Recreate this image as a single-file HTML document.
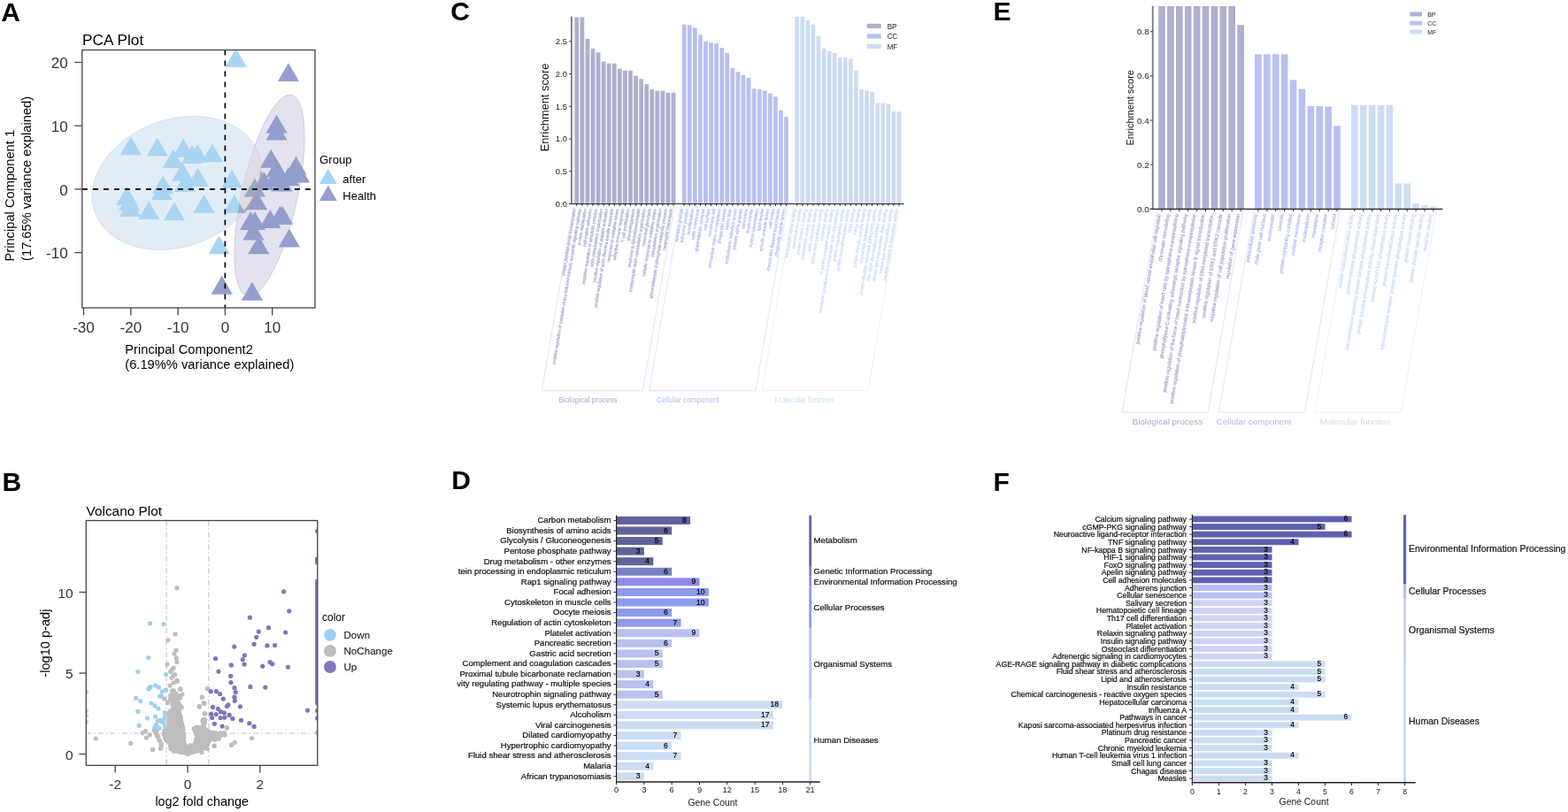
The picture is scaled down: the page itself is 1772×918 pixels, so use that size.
<!DOCTYPE html>
<html><head><meta charset="utf-8"><title>Figure</title>
<style>html,body{margin:0;padding:0;background:#fff;}svg{display:block;}text{font-family:'Liberation Sans', Arial, Helvetica, sans-serif;}</style>
</head><body>
<svg width="1772" height="918" viewBox="0 0 1772 918">
<rect width="1772" height="918" fill="#fff"/>
<text x="1.30" y="23.60" font-size="30" fill="#000" font-weight="bold">A</text>
<text x="2.50" y="554.60" font-size="30" fill="#000" font-weight="bold">B</text>
<text x="509.30" y="23.20" font-size="30" fill="#000" font-weight="bold">C</text>
<text x="510.30" y="552.90" font-size="30" fill="#000" font-weight="bold">D</text>
<text x="1122.50" y="23.30" font-size="30" fill="#000" font-weight="bold">E</text>
<text x="1122.50" y="554.60" font-size="30" fill="#000" font-weight="bold">F</text>
<text transform="translate(93.00 50.80) scale(1.03 1)" font-size="16.8" fill="#000">PCA Plot</text>
<defs><clipPath id="clipA"><rect x="92.8" y="56.5" width="263.2" height="291.5"/></clipPath><clipPath id="clipLightEll"><ellipse cx="199.7" cy="206.9" rx="98.2" ry="71.9" transform="rotate(-19.8 199.7 206.9)"/></clipPath><clipPath id="clipDarkEll"><ellipse cx="304.5" cy="221.1" rx="31.4" ry="116.4" transform="rotate(12.4 304.5 221.1)"/></clipPath></defs>
<g clip-path="url(#clipA)">
<ellipse cx="199.7" cy="206.9" rx="98.2" ry="71.9" transform="rotate(-19.8 199.7 206.9)" fill="#e2ecf5" stroke="#c6def0" stroke-width="0.8"/>
<ellipse cx="304.5" cy="221.1" rx="31.4" ry="116.4" transform="rotate(12.4 304.5 221.1)" fill="#e2e3ee" stroke="#c4c7df" stroke-width="0.8"/>
<g clip-path="url(#clipDarkEll)"><ellipse cx="199.7" cy="206.9" rx="98.2" ry="71.9" transform="rotate(-19.8 199.7 206.9)" fill="#dfdce5" stroke="#d2cede" stroke-width="0.8"/></g>
<polygon points="266.60,54.83 278.70,75.79 254.50,75.79" fill="#a9d4f2"/>
<polygon points="147.90,154.23 160.00,175.19 135.80,175.19" fill="#a9d4f2"/>
<polygon points="177.80,155.43 189.90,176.39 165.70,176.39" fill="#a9d4f2"/>
<polygon points="207.10,156.73 219.20,177.69 195.00,177.69" fill="#a9d4f2"/>
<polygon points="195.70,168.93 207.80,189.89 183.60,189.89" fill="#a9d4f2"/>
<polygon points="217.00,164.03 229.10,184.99 204.90,184.99" fill="#a9d4f2"/>
<polygon points="223.10,162.83 235.20,183.79 211.00,183.79" fill="#a9d4f2"/>
<polygon points="239.90,162.33 252.00,183.29 227.80,183.29" fill="#a9d4f2"/>
<polygon points="206.30,183.73 218.40,204.69 194.20,204.69" fill="#a9d4f2"/>
<polygon points="223.60,189.83 235.70,210.79 211.50,210.79" fill="#a9d4f2"/>
<polygon points="209.10,195.93 221.20,216.89 197.00,216.89" fill="#a9d4f2"/>
<polygon points="184.20,198.13 196.30,219.09 172.10,219.09" fill="#a9d4f2"/>
<polygon points="183.00,205.03 195.10,225.99 170.90,225.99" fill="#a9d4f2"/>
<polygon points="143.50,210.83 155.60,231.79 131.40,231.79" fill="#a9d4f2"/>
<polygon points="146.10,217.23 158.20,238.19 134.00,238.19" fill="#a9d4f2"/>
<polygon points="146.90,224.13 159.00,245.09 134.80,245.09" fill="#a9d4f2"/>
<polygon points="168.20,227.13 180.30,248.09 156.10,248.09" fill="#a9d4f2"/>
<polygon points="196.90,228.33 209.00,249.29 184.80,249.29" fill="#a9d4f2"/>
<polygon points="230.50,219.83 242.60,240.79 218.40,240.79" fill="#a9d4f2"/>
<polygon points="262.10,191.83 274.20,212.79 250.00,212.79" fill="#a9d4f2"/>
<polygon points="264.80,219.73 276.90,240.69 252.70,240.69" fill="#a9d4f2"/>
<polygon points="247.60,266.33 259.70,287.29 235.50,287.29" fill="#a9d4f2"/>
<polygon points="287.90,201.63 300.00,222.59 275.80,222.59" fill="#a9d4f2"/>
<g clip-path="url(#clipDarkEll)">
<polygon points="266.60,54.83 278.70,75.79 254.50,75.79" fill="#97a9c5"/>
<polygon points="147.90,154.23 160.00,175.19 135.80,175.19" fill="#97a9c5"/>
<polygon points="177.80,155.43 189.90,176.39 165.70,176.39" fill="#97a9c5"/>
<polygon points="207.10,156.73 219.20,177.69 195.00,177.69" fill="#97a9c5"/>
<polygon points="195.70,168.93 207.80,189.89 183.60,189.89" fill="#97a9c5"/>
<polygon points="217.00,164.03 229.10,184.99 204.90,184.99" fill="#97a9c5"/>
<polygon points="223.10,162.83 235.20,183.79 211.00,183.79" fill="#97a9c5"/>
<polygon points="239.90,162.33 252.00,183.29 227.80,183.29" fill="#97a9c5"/>
<polygon points="206.30,183.73 218.40,204.69 194.20,204.69" fill="#97a9c5"/>
<polygon points="223.60,189.83 235.70,210.79 211.50,210.79" fill="#97a9c5"/>
<polygon points="209.10,195.93 221.20,216.89 197.00,216.89" fill="#97a9c5"/>
<polygon points="184.20,198.13 196.30,219.09 172.10,219.09" fill="#97a9c5"/>
<polygon points="183.00,205.03 195.10,225.99 170.90,225.99" fill="#97a9c5"/>
<polygon points="143.50,210.83 155.60,231.79 131.40,231.79" fill="#97a9c5"/>
<polygon points="146.10,217.23 158.20,238.19 134.00,238.19" fill="#97a9c5"/>
<polygon points="146.90,224.13 159.00,245.09 134.80,245.09" fill="#97a9c5"/>
<polygon points="168.20,227.13 180.30,248.09 156.10,248.09" fill="#97a9c5"/>
<polygon points="196.90,228.33 209.00,249.29 184.80,249.29" fill="#97a9c5"/>
<polygon points="230.50,219.83 242.60,240.79 218.40,240.79" fill="#97a9c5"/>
<polygon points="262.10,191.83 274.20,212.79 250.00,212.79" fill="#97a9c5"/>
<polygon points="264.80,219.73 276.90,240.69 252.70,240.69" fill="#97a9c5"/>
<polygon points="247.60,266.33 259.70,287.29 235.50,287.29" fill="#97a9c5"/>
<polygon points="287.90,201.63 300.00,222.59 275.80,222.59" fill="#97a9c5"/>
</g>
<polygon points="325.90,71.13 338.00,92.09 313.80,92.09" fill="#929fcc"/>
<polygon points="312.50,179.53 324.60,200.49 300.40,200.49" fill="#929fcc"/>
<polygon points="326.00,189.03 338.10,209.99 313.90,209.99" fill="#929fcc"/>
<polygon points="312.60,129.63 324.70,150.59 300.50,150.59" fill="#929fcc"/>
<polygon points="312.60,137.53 324.70,158.49 300.50,158.49" fill="#929fcc"/>
<polygon points="306.20,168.83 318.30,189.79 294.10,189.79" fill="#929fcc"/>
<polygon points="334.50,176.73 346.60,197.69 322.40,197.69" fill="#929fcc"/>
<polygon points="338.10,185.63 350.20,206.59 326.00,206.59" fill="#929fcc"/>
<polygon points="298.30,194.03 310.40,214.99 286.20,214.99" fill="#929fcc"/>
<polygon points="311.00,190.03 323.10,210.99 298.90,210.99" fill="#929fcc"/>
<polygon points="318.50,195.53 330.60,216.49 306.40,216.49" fill="#929fcc"/>
<polygon points="290.10,216.23 302.20,237.19 278.00,237.19" fill="#929fcc"/>
<polygon points="283.20,238.93 295.30,259.89 271.10,259.89" fill="#929fcc"/>
<polygon points="288.00,239.03 300.10,259.99 275.90,259.99" fill="#929fcc"/>
<polygon points="305.30,237.03 317.40,257.99 293.20,257.99" fill="#929fcc"/>
<polygon points="316.50,232.83 328.60,253.79 304.40,253.79" fill="#929fcc"/>
<polygon points="319.10,232.83 331.20,253.79 307.00,253.79" fill="#929fcc"/>
<polygon points="286.40,250.63 298.50,271.59 274.30,271.59" fill="#929fcc"/>
<polygon points="292.30,266.33 304.40,287.29 280.20,287.29" fill="#929fcc"/>
<polygon points="326.90,258.53 339.00,279.49 314.80,279.49" fill="#929fcc"/>
<polygon points="250.70,311.83 262.80,332.79 238.60,332.79" fill="#929fcc"/>
<polygon points="284.90,318.73 297.00,339.69 272.80,339.69" fill="#929fcc"/>
<defs><clipPath id="clipBand"><rect x="240" y="194" width="80" height="46"/></clipPath></defs>
<g clip-path="url(#clipDarkEll)"><g clip-path="url(#clipBand)"><ellipse cx="199.7" cy="206.9" rx="98.2" ry="71.9" transform="rotate(-19.8 199.7 206.9)" fill="none" stroke="#ad9cb0" stroke-width="2.6" opacity="0.85"/></g></g>
</g>
<line x1="92.90" y1="213.90" x2="356.00" y2="213.90" stroke="#000" stroke-width="1.7" stroke-dasharray="6 6"/>
<line x1="254.40" y1="56.50" x2="254.40" y2="348.00" stroke="#000" stroke-width="1.7" stroke-dasharray="6 6"/>
<rect x="92.8" y="56.5" width="263.2" height="291.5" fill="none" stroke="#444" stroke-width="1.3"/>
<line x1="84.30" y1="70.50" x2="92.80" y2="70.50" stroke="#444" stroke-width="1.3"/>
<text transform="translate(76.80 77.20) scale(1.07 1)" font-size="16" text-anchor="end" fill="#333">20</text>
<line x1="84.30" y1="142.20" x2="92.80" y2="142.20" stroke="#444" stroke-width="1.3"/>
<text transform="translate(76.80 148.90) scale(1.07 1)" font-size="16" text-anchor="end" fill="#333">10</text>
<line x1="84.30" y1="213.90" x2="92.80" y2="213.90" stroke="#444" stroke-width="1.3"/>
<text transform="translate(76.80 220.60) scale(1.07 1)" font-size="16" text-anchor="end" fill="#333">0</text>
<line x1="84.30" y1="285.60" x2="92.80" y2="285.60" stroke="#444" stroke-width="1.3"/>
<text transform="translate(76.80 292.30) scale(1.07 1)" font-size="16" text-anchor="end" fill="#333">-10</text>
<line x1="94.50" y1="348.00" x2="94.50" y2="356.50" stroke="#444" stroke-width="1.3"/>
<text transform="translate(94.50 376.00) scale(1.07 1)" font-size="16" text-anchor="middle" fill="#333">-30</text>
<line x1="147.80" y1="348.00" x2="147.80" y2="356.50" stroke="#444" stroke-width="1.3"/>
<text transform="translate(147.80 376.00) scale(1.07 1)" font-size="16" text-anchor="middle" fill="#333">-20</text>
<line x1="201.10" y1="348.00" x2="201.10" y2="356.50" stroke="#444" stroke-width="1.3"/>
<text transform="translate(201.10 376.00) scale(1.07 1)" font-size="16" text-anchor="middle" fill="#333">-10</text>
<line x1="254.40" y1="348.00" x2="254.40" y2="356.50" stroke="#444" stroke-width="1.3"/>
<text transform="translate(254.40 376.00) scale(1.07 1)" font-size="16" text-anchor="middle" fill="#333">0</text>
<line x1="307.70" y1="348.00" x2="307.70" y2="356.50" stroke="#444" stroke-width="1.3"/>
<text transform="translate(307.70 376.00) scale(1.07 1)" font-size="16" text-anchor="middle" fill="#333">10</text>
<text x="141.30" y="399.70" font-size="14.7" fill="#000">Principal Component2</text>
<text x="141.30" y="416.90" font-size="14.7" fill="#000">(6.19%% variance explained)</text>
<text x="16.00" y="295.50" font-size="14.7" fill="#000" transform="rotate(-90 16.00 295.50)">Principal Component 1</text>
<text x="35.20" y="295.00" font-size="14.7" fill="#000" transform="rotate(-90 35.20 295.00)">(17.65% variance explained)</text>
<text transform="translate(361.00 185.40) scale(1.08 1)" font-size="12.2" fill="#000">Group</text>
<polygon points="370.90,190.65 380.90,207.97 360.90,207.97" fill="#a9d4f2"/>
<text transform="translate(387.30 207.20) scale(1.07 1)" font-size="12.2" fill="#000">after</text>
<polygon points="370.90,209.65 380.90,226.97 360.90,226.97" fill="#929fcc"/>
<text transform="translate(387.30 226.10) scale(1.07 1)" font-size="12.2" fill="#000">Health</text>
<text x="97.50" y="583.40" font-size="15.4" fill="#000">Volcano Plot</text>
<defs><clipPath id="clipB"><rect x="97.3" y="588.5" width="261.5" height="276.8"/></clipPath></defs>
<g clip-path="url(#clipB)">
<line x1="188.10" y1="588.50" x2="188.10" y2="865.30" stroke="#c4c4c4" stroke-width="1.2" stroke-dasharray="6 3 1.5 3"/>
<line x1="235.90" y1="588.50" x2="235.90" y2="865.30" stroke="#c4c4c4" stroke-width="1.2" stroke-dasharray="6 3 1.5 3"/>
<line x1="97.30" y1="829.00" x2="358.80" y2="829.00" stroke="#c4c4c4" stroke-width="1.2" stroke-dasharray="6 3 1.5 3"/>
<path d="M191.2,785.7 L196.6,779.3 L201.5,783.7 L204.4,788.1 L202.5,792.5 L205.9,799.4 L204.4,803.3 L206.4,811.2 L207.4,817.1 L208.8,822.0 L209.3,828.8 L209.8,836.7 L211.3,842.5 L214.2,840.6 L218.1,840.6 L220.1,832.7 L218.1,822.0 L223.0,820.0 L227.9,821.0 L229.9,813.1 L233.8,814.1 L231.9,819.0 L233.8,823.9 L238.7,825.9 L245.6,826.9 L251.5,828.8 L254.4,830.8 L249.5,833.7 L243.6,837.6 L238.7,838.6 L235.8,844.5 L229.9,848.4 L222.1,851.4 L212.3,854.3 L204.4,852.4 L194.6,850.4 L190.7,846.5 L189.7,840.6 L185.8,837.6 L182.8,828.8 L184.8,824.4 L188.7,822.0 L188.7,813.1 L189.7,803.3 L194.6,799.4 L193.6,795.5 L190.7,789.6 Z" fill="#bdbdbd"/>
<circle cx="192.8" cy="786.8" r="2.6" fill="#bdbdbd"/>
<circle cx="194.9" cy="784.6" r="2.6" fill="#bdbdbd"/>
<circle cx="196.6" cy="782.8" r="2.6" fill="#bdbdbd"/>
<circle cx="194.6" cy="781.0" r="2.6" fill="#bdbdbd"/>
<circle cx="197.0" cy="783.2" r="2.6" fill="#bdbdbd"/>
<circle cx="199.1" cy="784.6" r="2.6" fill="#bdbdbd"/>
<circle cx="201.0" cy="787.5" r="2.6" fill="#bdbdbd"/>
<circle cx="201.9" cy="786.9" r="2.6" fill="#bdbdbd"/>
<circle cx="201.5" cy="789.9" r="2.6" fill="#bdbdbd"/>
<circle cx="200.5" cy="793.5" r="2.6" fill="#bdbdbd"/>
<circle cx="202.0" cy="795.4" r="2.6" fill="#bdbdbd"/>
<circle cx="203.0" cy="797.9" r="2.6" fill="#bdbdbd"/>
<circle cx="203.4" cy="798.2" r="2.6" fill="#bdbdbd"/>
<circle cx="202.0" cy="804.2" r="2.6" fill="#bdbdbd"/>
<circle cx="202.5" cy="806.6" r="2.6" fill="#bdbdbd"/>
<circle cx="203.6" cy="809.0" r="2.6" fill="#bdbdbd"/>
<circle cx="204.2" cy="811.1" r="2.6" fill="#bdbdbd"/>
<circle cx="204.2" cy="814.2" r="2.6" fill="#bdbdbd"/>
<circle cx="205.3" cy="817.6" r="2.6" fill="#bdbdbd"/>
<circle cx="205.7" cy="820.3" r="2.6" fill="#bdbdbd"/>
<circle cx="206.5" cy="821.9" r="2.6" fill="#bdbdbd"/>
<circle cx="207.0" cy="824.6" r="2.6" fill="#bdbdbd"/>
<circle cx="206.6" cy="826.8" r="2.6" fill="#bdbdbd"/>
<circle cx="207.0" cy="829.3" r="2.6" fill="#bdbdbd"/>
<circle cx="207.4" cy="831.4" r="2.6" fill="#bdbdbd"/>
<circle cx="207.8" cy="833.8" r="2.6" fill="#bdbdbd"/>
<circle cx="207.5" cy="837.5" r="2.6" fill="#bdbdbd"/>
<circle cx="208.0" cy="840.2" r="2.6" fill="#bdbdbd"/>
<circle cx="212.1" cy="844.6" r="2.6" fill="#bdbdbd"/>
<circle cx="214.5" cy="843.0" r="2.6" fill="#bdbdbd"/>
<circle cx="220.7" cy="841.0" r="2.6" fill="#bdbdbd"/>
<circle cx="221.2" cy="838.6" r="2.6" fill="#bdbdbd"/>
<circle cx="221.8" cy="835.9" r="2.6" fill="#bdbdbd"/>
<circle cx="222.7" cy="832.8" r="2.6" fill="#bdbdbd"/>
<circle cx="221.8" cy="829.8" r="2.6" fill="#bdbdbd"/>
<circle cx="220.9" cy="827.1" r="2.6" fill="#bdbdbd"/>
<circle cx="221.0" cy="824.7" r="2.6" fill="#bdbdbd"/>
<circle cx="219.3" cy="823.9" r="2.6" fill="#bdbdbd"/>
<circle cx="221.3" cy="823.3" r="2.6" fill="#bdbdbd"/>
<circle cx="222.1" cy="822.2" r="2.6" fill="#bdbdbd"/>
<circle cx="224.7" cy="822.4" r="2.6" fill="#bdbdbd"/>
<circle cx="229.7" cy="821.8" r="2.6" fill="#bdbdbd"/>
<circle cx="230.5" cy="818.7" r="2.6" fill="#bdbdbd"/>
<circle cx="231.4" cy="816.7" r="2.6" fill="#bdbdbd"/>
<circle cx="228.9" cy="815.3" r="2.6" fill="#bdbdbd"/>
<circle cx="231.7" cy="813.6" r="2.6" fill="#bdbdbd"/>
<circle cx="231.0" cy="816.1" r="2.6" fill="#bdbdbd"/>
<circle cx="229.5" cy="819.8" r="2.6" fill="#bdbdbd"/>
<circle cx="230.6" cy="822.7" r="2.6" fill="#bdbdbd"/>
<circle cx="233.4" cy="825.7" r="2.6" fill="#bdbdbd"/>
<circle cx="235.1" cy="826.8" r="2.6" fill="#bdbdbd"/>
<circle cx="238.1" cy="828.1" r="2.6" fill="#bdbdbd"/>
<circle cx="240.8" cy="828.2" r="2.6" fill="#bdbdbd"/>
<circle cx="242.5" cy="828.7" r="2.6" fill="#bdbdbd"/>
<circle cx="244.7" cy="829.1" r="2.6" fill="#bdbdbd"/>
<circle cx="248.3" cy="830.2" r="2.6" fill="#bdbdbd"/>
<circle cx="250.2" cy="830.9" r="2.6" fill="#bdbdbd"/>
<circle cx="253.4" cy="828.4" r="2.6" fill="#bdbdbd"/>
<circle cx="251.2" cy="830.6" r="2.6" fill="#bdbdbd"/>
<circle cx="248.6" cy="832.1" r="2.6" fill="#bdbdbd"/>
<circle cx="246.2" cy="833.0" r="2.6" fill="#bdbdbd"/>
<circle cx="243.9" cy="834.6" r="2.6" fill="#bdbdbd"/>
<circle cx="242.7" cy="835.0" r="2.6" fill="#bdbdbd"/>
<circle cx="240.4" cy="835.5" r="2.6" fill="#bdbdbd"/>
<circle cx="236.5" cy="837.2" r="2.6" fill="#bdbdbd"/>
<circle cx="234.7" cy="840.2" r="2.6" fill="#bdbdbd"/>
<circle cx="234.1" cy="842.5" r="2.6" fill="#bdbdbd"/>
<circle cx="232.1" cy="844.3" r="2.6" fill="#bdbdbd"/>
<circle cx="230.7" cy="844.9" r="2.6" fill="#bdbdbd"/>
<circle cx="228.8" cy="846.1" r="2.6" fill="#bdbdbd"/>
<circle cx="226.3" cy="846.9" r="2.6" fill="#bdbdbd"/>
<circle cx="224.2" cy="848.7" r="2.6" fill="#bdbdbd"/>
<circle cx="221.4" cy="849.2" r="2.6" fill="#bdbdbd"/>
<circle cx="218.5" cy="849.5" r="2.6" fill="#bdbdbd"/>
<circle cx="216.3" cy="850.4" r="2.6" fill="#bdbdbd"/>
<circle cx="214.4" cy="851.0" r="2.6" fill="#bdbdbd"/>
<circle cx="212.3" cy="852.5" r="2.6" fill="#bdbdbd"/>
<circle cx="210.2" cy="851.1" r="2.6" fill="#bdbdbd"/>
<circle cx="207.6" cy="850.3" r="2.6" fill="#bdbdbd"/>
<circle cx="204.9" cy="850.6" r="2.6" fill="#bdbdbd"/>
<circle cx="202.8" cy="849.8" r="2.6" fill="#bdbdbd"/>
<circle cx="199.7" cy="849.0" r="2.6" fill="#bdbdbd"/>
<circle cx="197.2" cy="848.9" r="2.6" fill="#bdbdbd"/>
<circle cx="196.3" cy="849.0" r="2.6" fill="#bdbdbd"/>
<circle cx="194.1" cy="846.5" r="2.6" fill="#bdbdbd"/>
<circle cx="193.3" cy="846.6" r="2.6" fill="#bdbdbd"/>
<circle cx="192.8" cy="843.5" r="2.6" fill="#bdbdbd"/>
<circle cx="191.4" cy="839.0" r="2.6" fill="#bdbdbd"/>
<circle cx="188.9" cy="837.3" r="2.6" fill="#bdbdbd"/>
<circle cx="187.8" cy="836.4" r="2.6" fill="#bdbdbd"/>
<circle cx="186.8" cy="834.5" r="2.6" fill="#bdbdbd"/>
<circle cx="186.3" cy="832.7" r="2.6" fill="#bdbdbd"/>
<circle cx="186.2" cy="830.2" r="2.6" fill="#bdbdbd"/>
<circle cx="185.4" cy="830.2" r="2.6" fill="#bdbdbd"/>
<circle cx="186.4" cy="827.4" r="2.6" fill="#bdbdbd"/>
<circle cx="185.7" cy="826.1" r="2.6" fill="#bdbdbd"/>
<circle cx="187.7" cy="824.8" r="2.6" fill="#bdbdbd"/>
<circle cx="191.1" cy="822.4" r="2.6" fill="#bdbdbd"/>
<circle cx="191.4" cy="819.7" r="2.6" fill="#bdbdbd"/>
<circle cx="191.2" cy="817.8" r="2.6" fill="#bdbdbd"/>
<circle cx="190.6" cy="815.5" r="2.6" fill="#bdbdbd"/>
<circle cx="191.4" cy="813.6" r="2.6" fill="#bdbdbd"/>
<circle cx="191.5" cy="810.9" r="2.6" fill="#bdbdbd"/>
<circle cx="191.2" cy="808.8" r="2.6" fill="#bdbdbd"/>
<circle cx="191.6" cy="806.3" r="2.6" fill="#bdbdbd"/>
<circle cx="191.6" cy="805.0" r="2.6" fill="#bdbdbd"/>
<circle cx="193.5" cy="803.6" r="2.6" fill="#bdbdbd"/>
<circle cx="197.1" cy="798.5" r="2.6" fill="#bdbdbd"/>
<circle cx="195.3" cy="794.1" r="2.6" fill="#bdbdbd"/>
<circle cx="194.6" cy="791.8" r="2.6" fill="#bdbdbd"/>
<circle cx="192.6" cy="790.2" r="2.6" fill="#bdbdbd"/>
<circle cx="189.7" cy="794.0" r="2.6" fill="#bdbdbd"/>
<circle cx="203.9" cy="779.3" r="2.6" fill="#bdbdbd"/>
<circle cx="200.0" cy="770.5" r="2.6" fill="#bdbdbd"/>
<circle cx="228.4" cy="788.1" r="2.6" fill="#bdbdbd"/>
<circle cx="230.9" cy="795.0" r="2.6" fill="#bdbdbd"/>
<circle cx="225.5" cy="798.9" r="2.6" fill="#bdbdbd"/>
<circle cx="231.9" cy="806.8" r="2.6" fill="#bdbdbd"/>
<circle cx="234.8" cy="778.3" r="2.6" fill="#bdbdbd"/>
<circle cx="256.4" cy="822.9" r="2.6" fill="#bdbdbd"/>
<circle cx="261.3" cy="842.5" r="2.6" fill="#bdbdbd"/>
<circle cx="242.2" cy="843.0" r="2.6" fill="#bdbdbd"/>
<circle cx="227.9" cy="850.4" r="2.6" fill="#bdbdbd"/>
<circle cx="233.8" cy="846.5" r="2.6" fill="#bdbdbd"/>
<circle cx="180.9" cy="837.6" r="2.6" fill="#bdbdbd"/>
<circle cx="182.4" cy="842.0" r="2.6" fill="#bdbdbd"/>
<circle cx="181.4" cy="846.0" r="2.6" fill="#bdbdbd"/>
<circle cx="176.0" cy="828.8" r="2.6" fill="#bdbdbd"/>
<circle cx="177.0" cy="825.9" r="2.6" fill="#bdbdbd"/>
<circle cx="178.9" cy="832.7" r="2.6" fill="#bdbdbd"/>
<circle cx="199.9" cy="664.7" r="2.6" fill="#bdbdbd"/>
<circle cx="198.0" cy="716.9" r="2.6" fill="#bdbdbd"/>
<circle cx="190.0" cy="723.7" r="2.6" fill="#bdbdbd"/>
<circle cx="199.3" cy="743.9" r="2.6" fill="#bdbdbd"/>
<circle cx="199.9" cy="748.5" r="2.6" fill="#bdbdbd"/>
<circle cx="189.0" cy="751.0" r="2.6" fill="#bdbdbd"/>
<circle cx="196.1" cy="755.0" r="2.6" fill="#bdbdbd"/>
<circle cx="194.3" cy="757.2" r="2.6" fill="#bdbdbd"/>
<circle cx="192.7" cy="759.4" r="2.6" fill="#bdbdbd"/>
<circle cx="195.8" cy="764.3" r="2.6" fill="#bdbdbd"/>
<circle cx="200.2" cy="769.3" r="2.6" fill="#bdbdbd"/>
<circle cx="203.6" cy="778.9" r="2.6" fill="#bdbdbd"/>
<circle cx="234.6" cy="778.3" r="2.6" fill="#bdbdbd"/>
<circle cx="228.4" cy="788.5" r="2.6" fill="#bdbdbd"/>
<circle cx="230.3" cy="794.7" r="2.6" fill="#bdbdbd"/>
<circle cx="225.3" cy="798.5" r="2.6" fill="#bdbdbd"/>
<circle cx="231.5" cy="806.8" r="2.6" fill="#bdbdbd"/>
<circle cx="229.7" cy="813.4" r="2.6" fill="#bdbdbd"/>
<circle cx="231.3" cy="806.8" r="2.6" fill="#bdbdbd"/>
<circle cx="225.4" cy="798.7" r="2.6" fill="#bdbdbd"/>
<circle cx="230.8" cy="795.4" r="2.6" fill="#bdbdbd"/>
<circle cx="234.6" cy="778.7" r="2.6" fill="#bdbdbd"/>
<circle cx="196.0" cy="780.7" r="2.6" fill="#bdbdbd"/>
<circle cx="192.7" cy="786.1" r="2.6" fill="#bdbdbd"/>
<circle cx="203.6" cy="788.9" r="2.6" fill="#bdbdbd"/>
<circle cx="198.1" cy="792.7" r="2.6" fill="#bdbdbd"/>
<circle cx="194.9" cy="797.0" r="2.6" fill="#bdbdbd"/>
<circle cx="205.2" cy="799.8" r="2.6" fill="#bdbdbd"/>
<circle cx="189.4" cy="794.6" r="2.6" fill="#bdbdbd"/>
<circle cx="203.6" cy="779.4" r="2.6" fill="#bdbdbd"/>
<circle cx="200.1" cy="769.6" r="2.6" fill="#bdbdbd"/>
<circle cx="197.6" cy="762.7" r="2.6" fill="#bdbdbd"/>
<circle cx="194.1" cy="766.3" r="2.6" fill="#bdbdbd"/>
<circle cx="164.4" cy="826.7" r="2.6" fill="#bdbdbd"/>
<circle cx="161.1" cy="828.6" r="2.6" fill="#bdbdbd"/>
<circle cx="165.4" cy="834.1" r="2.6" fill="#bdbdbd"/>
<circle cx="169.3" cy="830.8" r="2.6" fill="#bdbdbd"/>
<circle cx="174.2" cy="825.4" r="2.6" fill="#bdbdbd"/>
<circle cx="176.3" cy="827.5" r="2.6" fill="#bdbdbd"/>
<circle cx="177.4" cy="831.9" r="2.6" fill="#bdbdbd"/>
<circle cx="179.6" cy="836.3" r="2.6" fill="#bdbdbd"/>
<circle cx="182.3" cy="841.2" r="2.6" fill="#bdbdbd"/>
<circle cx="181.8" cy="846.1" r="2.6" fill="#bdbdbd"/>
<circle cx="172.5" cy="847.7" r="2.6" fill="#bdbdbd"/>
<circle cx="242.8" cy="836.3" r="2.6" fill="#bdbdbd"/>
<circle cx="246.1" cy="830.8" r="2.6" fill="#bdbdbd"/>
<circle cx="249.3" cy="828.6" r="2.6" fill="#bdbdbd"/>
<circle cx="254.2" cy="830.8" r="2.6" fill="#bdbdbd"/>
<circle cx="256.4" cy="823.0" r="2.6" fill="#bdbdbd"/>
<circle cx="242.2" cy="843.3" r="2.6" fill="#bdbdbd"/>
<circle cx="247.1" cy="835.2" r="2.6" fill="#bdbdbd"/>
<circle cx="108.3" cy="835.1" r="2.6" fill="#bdbdbd"/>
<circle cx="147.7" cy="840.4" r="2.6" fill="#bdbdbd"/>
<circle cx="172.6" cy="847.5" r="2.6" fill="#bdbdbd"/>
<circle cx="261.9" cy="841.9" r="2.6" fill="#bdbdbd"/>
<circle cx="265.3" cy="839.4" r="2.6" fill="#bdbdbd"/>
<circle cx="284.6" cy="834.5" r="2.6" fill="#bdbdbd"/>
<circle cx="358.6" cy="828.0" r="2.6" fill="#bdbdbd"/>
<circle cx="197.0" cy="739.0" r="2.6" fill="#bdbdbd"/>
<circle cx="199.0" cy="735.0" r="2.6" fill="#bdbdbd"/>
<circle cx="196.0" cy="772.0" r="2.6" fill="#bdbdbd"/>
<circle cx="192.0" cy="775.0" r="2.6" fill="#bdbdbd"/>
<circle cx="206.0" cy="785.0" r="2.6" fill="#bdbdbd"/>
<circle cx="186.0" cy="790.0" r="2.6" fill="#bdbdbd"/>
<circle cx="169.5" cy="704.8" r="2.6" fill="#9fcff2"/>
<circle cx="185.0" cy="705.7" r="2.6" fill="#9fcff2"/>
<circle cx="167.9" cy="743.5" r="2.6" fill="#9fcff2"/>
<circle cx="155.8" cy="759.4" r="2.6" fill="#9fcff2"/>
<circle cx="187.5" cy="762.5" r="2.6" fill="#9fcff2"/>
<circle cx="168.8" cy="777.4" r="2.6" fill="#9fcff2"/>
<circle cx="170.1" cy="776.7" r="2.6" fill="#9fcff2"/>
<circle cx="175.7" cy="774.9" r="2.6" fill="#9fcff2"/>
<circle cx="179.4" cy="777.1" r="2.6" fill="#9fcff2"/>
<circle cx="183.1" cy="782.0" r="2.6" fill="#9fcff2"/>
<circle cx="187.5" cy="780.2" r="2.6" fill="#9fcff2"/>
<circle cx="180.6" cy="787.0" r="2.6" fill="#9fcff2"/>
<circle cx="182.5" cy="787.3" r="2.6" fill="#9fcff2"/>
<circle cx="153.6" cy="789.2" r="2.6" fill="#9fcff2"/>
<circle cx="158.6" cy="792.6" r="2.6" fill="#9fcff2"/>
<circle cx="175.0" cy="797.8" r="2.6" fill="#9fcff2"/>
<circle cx="178.8" cy="801.0" r="2.6" fill="#9fcff2"/>
<circle cx="186.2" cy="805.9" r="2.6" fill="#9fcff2"/>
<circle cx="186.8" cy="807.5" r="2.6" fill="#9fcff2"/>
<circle cx="155.8" cy="804.4" r="2.6" fill="#9fcff2"/>
<circle cx="175.4" cy="810.0" r="2.6" fill="#9fcff2"/>
<circle cx="178.2" cy="814.6" r="2.6" fill="#9fcff2"/>
<circle cx="181.3" cy="814.6" r="2.6" fill="#9fcff2"/>
<circle cx="183.1" cy="816.1" r="2.6" fill="#9fcff2"/>
<circle cx="185.0" cy="817.1" r="2.6" fill="#9fcff2"/>
<circle cx="176.6" cy="819.3" r="2.6" fill="#9fcff2"/>
<circle cx="157.1" cy="820.2" r="2.6" fill="#9fcff2"/>
<circle cx="186.5" cy="821.4" r="2.6" fill="#9fcff2"/>
<circle cx="168.0" cy="779.0" r="2.6" fill="#9fcff2"/>
<circle cx="171.0" cy="795.0" r="2.6" fill="#9fcff2"/>
<circle cx="166.5" cy="812.0" r="2.6" fill="#9fcff2"/>
<circle cx="175.0" cy="822.0" r="2.6" fill="#9fcff2"/>
<circle cx="180.0" cy="823.0" r="2.6" fill="#9fcff2"/>
<circle cx="186.0" cy="812.0" r="2.6" fill="#9fcff2"/>
<circle cx="97.3" cy="782.6" r="2.6" fill="#9fcff2"/>
<circle cx="97.3" cy="803.7" r="2.6" fill="#9fcff2"/>
<circle cx="97.3" cy="809.0" r="2.6" fill="#9fcff2"/>
<circle cx="97.3" cy="815.8" r="2.6" fill="#9fcff2"/>
<circle cx="320.6" cy="668.8" r="2.6" fill="#7d77be"/>
<circle cx="326.8" cy="690.8" r="2.6" fill="#7d77be"/>
<circle cx="282.4" cy="698.2" r="2.6" fill="#7d77be"/>
<circle cx="303.5" cy="709.7" r="2.6" fill="#7d77be"/>
<circle cx="292.3" cy="714.1" r="2.6" fill="#7d77be"/>
<circle cx="289.8" cy="720.3" r="2.6" fill="#7d77be"/>
<circle cx="322.7" cy="715.0" r="2.6" fill="#7d77be"/>
<circle cx="287.1" cy="728.3" r="2.6" fill="#7d77be"/>
<circle cx="302.0" cy="729.9" r="2.6" fill="#7d77be"/>
<circle cx="310.6" cy="729.6" r="2.6" fill="#7d77be"/>
<circle cx="264.7" cy="731.1" r="2.6" fill="#7d77be"/>
<circle cx="276.5" cy="740.8" r="2.6" fill="#7d77be"/>
<circle cx="274.3" cy="745.7" r="2.6" fill="#7d77be"/>
<circle cx="276.2" cy="751.0" r="2.6" fill="#7d77be"/>
<circle cx="243.6" cy="744.5" r="2.6" fill="#7d77be"/>
<circle cx="261.3" cy="751.9" r="2.6" fill="#7d77be"/>
<circle cx="305.1" cy="748.5" r="2.6" fill="#7d77be"/>
<circle cx="307.8" cy="750.7" r="2.6" fill="#7d77be"/>
<circle cx="296.7" cy="753.2" r="2.6" fill="#7d77be"/>
<circle cx="325.5" cy="754.1" r="2.6" fill="#7d77be"/>
<circle cx="247.0" cy="759.1" r="2.6" fill="#7d77be"/>
<circle cx="260.7" cy="764.3" r="2.6" fill="#7d77be"/>
<circle cx="261.0" cy="771.5" r="2.6" fill="#7d77be"/>
<circle cx="283.0" cy="776.4" r="2.6" fill="#7d77be"/>
<circle cx="299.8" cy="777.1" r="2.6" fill="#7d77be"/>
<circle cx="265.0" cy="777.7" r="2.6" fill="#7d77be"/>
<circle cx="238.3" cy="781.7" r="2.6" fill="#7d77be"/>
<circle cx="244.5" cy="781.7" r="2.6" fill="#7d77be"/>
<circle cx="248.6" cy="784.5" r="2.6" fill="#7d77be"/>
<circle cx="266.3" cy="782.6" r="2.6" fill="#7d77be"/>
<circle cx="265.0" cy="788.2" r="2.6" fill="#7d77be"/>
<circle cx="265.3" cy="792.3" r="2.6" fill="#7d77be"/>
<circle cx="252.3" cy="790.1" r="2.6" fill="#7d77be"/>
<circle cx="257.9" cy="796.9" r="2.6" fill="#7d77be"/>
<circle cx="256.3" cy="798.5" r="2.6" fill="#7d77be"/>
<circle cx="271.5" cy="798.8" r="2.6" fill="#7d77be"/>
<circle cx="240.5" cy="799.4" r="2.6" fill="#7d77be"/>
<circle cx="246.4" cy="801.3" r="2.6" fill="#7d77be"/>
<circle cx="249.5" cy="804.7" r="2.6" fill="#7d77be"/>
<circle cx="253.5" cy="805.9" r="2.6" fill="#7d77be"/>
<circle cx="238.7" cy="807.2" r="2.6" fill="#7d77be"/>
<circle cx="244.2" cy="807.5" r="2.6" fill="#7d77be"/>
<circle cx="259.1" cy="808.4" r="2.6" fill="#7d77be"/>
<circle cx="262.9" cy="812.4" r="2.6" fill="#7d77be"/>
<circle cx="239.6" cy="811.5" r="2.6" fill="#7d77be"/>
<circle cx="249.2" cy="811.5" r="2.6" fill="#7d77be"/>
<circle cx="253.9" cy="811.2" r="2.6" fill="#7d77be"/>
<circle cx="272.5" cy="814.3" r="2.6" fill="#7d77be"/>
<circle cx="242.4" cy="818.3" r="2.6" fill="#7d77be"/>
<circle cx="281.8" cy="817.7" r="2.6" fill="#7d77be"/>
<circle cx="287.1" cy="821.4" r="2.6" fill="#7d77be"/>
<circle cx="251.1" cy="821.1" r="2.6" fill="#7d77be"/>
<circle cx="347.6" cy="803.1" r="2.6" fill="#7d77be"/>
<circle cx="358.6" cy="600.6" r="2.6" fill="#7d77be"/>
<circle cx="358.6" cy="631.8" r="2.6" fill="#7d77be"/>
<circle cx="358.6" cy="634.0" r="2.6" fill="#7d77be"/>
<circle cx="358.6" cy="636.0" r="2.6" fill="#7d77be"/>
<circle cx="358.6" cy="657.0" r="2.6" fill="#7d77be"/>
<circle cx="358.6" cy="660.0" r="2.6" fill="#7d77be"/>
<circle cx="358.6" cy="663.0" r="2.6" fill="#7d77be"/>
<circle cx="358.6" cy="666.0" r="2.6" fill="#7d77be"/>
<circle cx="358.6" cy="669.0" r="2.6" fill="#7d77be"/>
<circle cx="358.6" cy="672.0" r="2.6" fill="#7d77be"/>
<circle cx="358.6" cy="675.0" r="2.6" fill="#7d77be"/>
<circle cx="358.6" cy="678.0" r="2.6" fill="#7d77be"/>
<circle cx="358.6" cy="681.0" r="2.6" fill="#7d77be"/>
<circle cx="358.6" cy="684.0" r="2.6" fill="#7d77be"/>
<circle cx="358.6" cy="687.0" r="2.6" fill="#7d77be"/>
<circle cx="358.6" cy="690.0" r="2.6" fill="#7d77be"/>
<circle cx="358.6" cy="693.0" r="2.6" fill="#7d77be"/>
<circle cx="358.6" cy="696.0" r="2.6" fill="#7d77be"/>
<circle cx="358.6" cy="699.0" r="2.6" fill="#7d77be"/>
<circle cx="358.6" cy="702.0" r="2.6" fill="#7d77be"/>
<circle cx="358.6" cy="705.0" r="2.6" fill="#7d77be"/>
<circle cx="358.6" cy="708.0" r="2.6" fill="#7d77be"/>
<circle cx="358.6" cy="711.0" r="2.6" fill="#7d77be"/>
<circle cx="358.6" cy="714.0" r="2.6" fill="#7d77be"/>
<circle cx="358.6" cy="717.0" r="2.6" fill="#7d77be"/>
<circle cx="358.6" cy="720.0" r="2.6" fill="#7d77be"/>
<circle cx="358.6" cy="723.0" r="2.6" fill="#7d77be"/>
<circle cx="358.6" cy="726.0" r="2.6" fill="#7d77be"/>
<circle cx="358.6" cy="729.0" r="2.6" fill="#7d77be"/>
<circle cx="358.6" cy="732.0" r="2.6" fill="#7d77be"/>
<circle cx="358.6" cy="735.0" r="2.6" fill="#7d77be"/>
<circle cx="358.6" cy="738.0" r="2.6" fill="#7d77be"/>
<circle cx="358.6" cy="741.0" r="2.6" fill="#7d77be"/>
<circle cx="358.6" cy="744.0" r="2.6" fill="#7d77be"/>
<circle cx="358.6" cy="747.0" r="2.6" fill="#7d77be"/>
<circle cx="358.6" cy="750.0" r="2.6" fill="#7d77be"/>
<circle cx="358.6" cy="753.0" r="2.6" fill="#7d77be"/>
<circle cx="358.6" cy="756.0" r="2.6" fill="#7d77be"/>
<circle cx="358.6" cy="759.0" r="2.6" fill="#7d77be"/>
<circle cx="358.6" cy="762.0" r="2.6" fill="#7d77be"/>
<circle cx="358.6" cy="765.0" r="2.6" fill="#7d77be"/>
<circle cx="358.6" cy="768.0" r="2.6" fill="#7d77be"/>
<circle cx="358.6" cy="771.0" r="2.6" fill="#7d77be"/>
<circle cx="358.6" cy="774.0" r="2.6" fill="#7d77be"/>
<circle cx="358.6" cy="777.0" r="2.6" fill="#7d77be"/>
<circle cx="358.6" cy="780.0" r="2.6" fill="#7d77be"/>
<circle cx="358.6" cy="783.0" r="2.6" fill="#7d77be"/>
<circle cx="358.6" cy="786.0" r="2.6" fill="#7d77be"/>
<circle cx="358.6" cy="789.0" r="2.6" fill="#7d77be"/>
<circle cx="358.6" cy="792.0" r="2.6" fill="#7d77be"/>
<circle cx="358.6" cy="795.0" r="2.6" fill="#7d77be"/>
<circle cx="358.6" cy="803.4" r="2.6" fill="#7d77be"/>
<circle cx="358.6" cy="812.0" r="2.6" fill="#7d77be"/>
</g>
<rect x="97.3" y="588.5" width="261.5" height="276.8" fill="none" stroke="#444" stroke-width="1.3"/>
<line x1="89.50" y1="852.50" x2="97.30" y2="852.50" stroke="#444" stroke-width="1.3"/>
<text transform="translate(82.60 858.80) scale(1.07 1)" font-size="14.6" text-anchor="end" fill="#333">0</text>
<line x1="89.50" y1="761.00" x2="97.30" y2="761.00" stroke="#444" stroke-width="1.3"/>
<text transform="translate(82.60 767.30) scale(1.07 1)" font-size="14.6" text-anchor="end" fill="#333">5</text>
<line x1="89.50" y1="669.50" x2="97.30" y2="669.50" stroke="#444" stroke-width="1.3"/>
<text transform="translate(82.60 675.80) scale(1.07 1)" font-size="14.6" text-anchor="end" fill="#333">10</text>
<line x1="130.20" y1="865.30" x2="130.20" y2="873.40" stroke="#444" stroke-width="1.3"/>
<text transform="translate(130.20 891.60) scale(1.07 1)" font-size="14.6" text-anchor="middle" fill="#333">-2</text>
<line x1="212.00" y1="865.30" x2="212.00" y2="873.40" stroke="#444" stroke-width="1.3"/>
<text transform="translate(212.00 891.60) scale(1.07 1)" font-size="14.6" text-anchor="middle" fill="#333">0</text>
<line x1="293.80" y1="865.30" x2="293.80" y2="873.40" stroke="#444" stroke-width="1.3"/>
<text transform="translate(293.80 891.60) scale(1.07 1)" font-size="14.6" text-anchor="middle" fill="#333">2</text>
<text x="228.20" y="910.80" font-size="14.4" text-anchor="middle" fill="#000">log2 fold change</text>
<text x="56.30" y="727.10" font-size="14.6" text-anchor="middle" fill="#000" transform="rotate(-90 56.30 727.10)">-log10 p-adj</text>
<text x="364.00" y="701.80" font-size="12.0" fill="#000">color</text>
<circle cx="373.0" cy="717.8" r="6.9" fill="#9fcff2"/>
<text x="388.50" y="721.90" font-size="11.6" fill="#000">Down</text>
<circle cx="373.0" cy="735.9" r="6.9" fill="#bdbdbd"/>
<text x="388.50" y="740.00" font-size="11.6" fill="#000">NoChange</text>
<circle cx="373.0" cy="754.0" r="6.9" fill="#7d77be"/>
<text x="388.50" y="758.10" font-size="11.6" fill="#000">Up</text>
<rect x="649.40" y="19.55" width="4.80" height="210.95" fill="#aeb0cf"/>
<rect x="655.47" y="19.55" width="4.80" height="210.95" fill="#aeb0cf"/>
<rect x="661.54" y="43.81" width="4.80" height="186.69" fill="#aeb0cf"/>
<rect x="667.61" y="54.83" width="4.80" height="175.67" fill="#aeb0cf"/>
<rect x="673.68" y="59.25" width="4.80" height="171.25" fill="#aeb0cf"/>
<rect x="679.75" y="69.53" width="4.80" height="160.97" fill="#aeb0cf"/>
<rect x="685.82" y="71.74" width="4.80" height="158.76" fill="#aeb0cf"/>
<rect x="691.89" y="71.74" width="4.80" height="158.76" fill="#aeb0cf"/>
<rect x="697.96" y="77.62" width="4.80" height="152.88" fill="#aeb0cf"/>
<rect x="704.03" y="79.83" width="4.80" height="150.67" fill="#aeb0cf"/>
<rect x="710.10" y="79.83" width="4.80" height="150.67" fill="#aeb0cf"/>
<rect x="716.17" y="85.71" width="4.80" height="144.79" fill="#aeb0cf"/>
<rect x="722.24" y="89.38" width="4.80" height="141.12" fill="#aeb0cf"/>
<rect x="728.31" y="95.26" width="4.80" height="135.24" fill="#aeb0cf"/>
<rect x="734.38" y="101.14" width="4.80" height="129.36" fill="#aeb0cf"/>
<rect x="740.45" y="102.61" width="4.80" height="127.89" fill="#aeb0cf"/>
<rect x="746.52" y="102.61" width="4.80" height="127.89" fill="#aeb0cf"/>
<rect x="752.59" y="104.81" width="4.80" height="125.69" fill="#aeb0cf"/>
<rect x="758.66" y="104.81" width="4.80" height="125.69" fill="#aeb0cf"/>
<rect x="770.80" y="27.64" width="4.80" height="202.86" fill="#b8c0f0"/>
<rect x="776.87" y="28.38" width="4.80" height="202.12" fill="#b8c0f0"/>
<rect x="782.94" y="31.31" width="4.80" height="199.19" fill="#b8c0f0"/>
<rect x="789.01" y="39.40" width="4.80" height="191.10" fill="#b8c0f0"/>
<rect x="795.08" y="46.75" width="4.80" height="183.75" fill="#b8c0f0"/>
<rect x="801.15" y="48.22" width="4.80" height="182.28" fill="#b8c0f0"/>
<rect x="807.22" y="48.95" width="4.80" height="181.55" fill="#b8c0f0"/>
<rect x="813.29" y="54.10" width="4.80" height="176.40" fill="#b8c0f0"/>
<rect x="819.36" y="59.98" width="4.80" height="170.52" fill="#b8c0f0"/>
<rect x="825.43" y="76.89" width="4.80" height="153.61" fill="#b8c0f0"/>
<rect x="831.50" y="81.30" width="4.80" height="149.20" fill="#b8c0f0"/>
<rect x="837.57" y="84.97" width="4.80" height="145.53" fill="#b8c0f0"/>
<rect x="843.64" y="87.91" width="4.80" height="142.59" fill="#b8c0f0"/>
<rect x="849.71" y="100.41" width="4.80" height="130.09" fill="#b8c0f0"/>
<rect x="855.78" y="101.14" width="4.80" height="129.36" fill="#b8c0f0"/>
<rect x="861.85" y="102.61" width="4.80" height="127.89" fill="#b8c0f0"/>
<rect x="867.92" y="105.55" width="4.80" height="124.95" fill="#b8c0f0"/>
<rect x="873.99" y="109.23" width="4.80" height="121.27" fill="#b8c0f0"/>
<rect x="880.06" y="124.66" width="4.80" height="105.84" fill="#b8c0f0"/>
<rect x="886.13" y="132.01" width="4.80" height="98.49" fill="#b8c0f0"/>
<rect x="898.27" y="18.82" width="4.80" height="211.68" fill="#ccddf3"/>
<rect x="904.34" y="18.82" width="4.80" height="211.68" fill="#ccddf3"/>
<rect x="910.41" y="23.23" width="4.80" height="207.27" fill="#ccddf3"/>
<rect x="916.48" y="27.64" width="4.80" height="202.86" fill="#ccddf3"/>
<rect x="922.55" y="40.87" width="4.80" height="189.63" fill="#ccddf3"/>
<rect x="928.62" y="54.83" width="4.80" height="175.67" fill="#ccddf3"/>
<rect x="934.69" y="57.78" width="4.80" height="172.72" fill="#ccddf3"/>
<rect x="940.76" y="59.98" width="4.80" height="170.52" fill="#ccddf3"/>
<rect x="946.83" y="65.12" width="4.80" height="165.38" fill="#ccddf3"/>
<rect x="952.90" y="65.12" width="4.80" height="165.38" fill="#ccddf3"/>
<rect x="958.97" y="66.59" width="4.80" height="163.91" fill="#ccddf3"/>
<rect x="965.04" y="79.83" width="4.80" height="150.67" fill="#ccddf3"/>
<rect x="971.11" y="101.14" width="4.80" height="129.36" fill="#ccddf3"/>
<rect x="977.18" y="102.61" width="4.80" height="127.89" fill="#ccddf3"/>
<rect x="983.25" y="104.08" width="4.80" height="126.42" fill="#ccddf3"/>
<rect x="989.32" y="116.58" width="4.80" height="113.92" fill="#ccddf3"/>
<rect x="995.39" y="116.58" width="4.80" height="113.92" fill="#ccddf3"/>
<rect x="1001.46" y="117.31" width="4.80" height="113.19" fill="#ccddf3"/>
<rect x="1007.53" y="126.13" width="4.80" height="104.37" fill="#ccddf3"/>
<rect x="1013.60" y="126.13" width="4.80" height="104.37" fill="#ccddf3"/>
<line x1="645.90" y1="18.80" x2="645.90" y2="231.10" stroke="#333" stroke-width="1.2"/>
<line x1="642.90" y1="230.50" x2="1021.50" y2="230.50" stroke="#222" stroke-width="1.2"/>
<line x1="643.10" y1="230.50" x2="645.90" y2="230.50" stroke="#333" stroke-width="1.0"/>
<text x="640.90" y="233.88" font-size="9.4" text-anchor="end" fill="#1a1a1a">0.0</text>
<line x1="643.10" y1="193.75" x2="645.90" y2="193.75" stroke="#333" stroke-width="1.0"/>
<text x="640.90" y="197.13" font-size="9.4" text-anchor="end" fill="#1a1a1a">0.5</text>
<line x1="643.10" y1="157.00" x2="645.90" y2="157.00" stroke="#333" stroke-width="1.0"/>
<text x="640.90" y="160.38" font-size="9.4" text-anchor="end" fill="#1a1a1a">1.0</text>
<line x1="643.10" y1="120.25" x2="645.90" y2="120.25" stroke="#333" stroke-width="1.0"/>
<text x="640.90" y="123.63" font-size="9.4" text-anchor="end" fill="#1a1a1a">1.5</text>
<line x1="643.10" y1="83.50" x2="645.90" y2="83.50" stroke="#333" stroke-width="1.0"/>
<text x="640.90" y="86.88" font-size="9.4" text-anchor="end" fill="#1a1a1a">2.0</text>
<line x1="643.10" y1="46.75" x2="645.90" y2="46.75" stroke="#333" stroke-width="1.0"/>
<text x="640.90" y="50.13" font-size="9.4" text-anchor="end" fill="#1a1a1a">2.5</text>
<text x="620.30" y="121.50" font-size="12.8" text-anchor="middle" fill="#111" transform="rotate(-90 620.30 121.50)">Enrichment score</text>
<line x1="651.80" y1="230.50" x2="651.80" y2="232.90" stroke="#222" stroke-width="1.0"/>
<text x="650.70" y="236.30" font-size="4.9" text-anchor="end" fill="#a3a6cc" transform="rotate(-80.5 650.70 236.30)" stroke="#a3a6cc" stroke-width="0.18">protein peptidyl-prolyl isomerization</text>
<line x1="657.87" y1="230.50" x2="657.87" y2="232.90" stroke="#222" stroke-width="1.0"/>
<text x="656.77" y="236.30" font-size="4.9" text-anchor="end" fill="#a3a6cc" transform="rotate(-80.5 656.77 236.30)" stroke="#a3a6cc" stroke-width="0.18">positive regulation of oxidative stress-induced intrinsic apoptotic signaling pathway</text>
<line x1="663.94" y1="230.50" x2="663.94" y2="232.90" stroke="#222" stroke-width="1.0"/>
<text x="662.84" y="236.30" font-size="4.9" text-anchor="end" fill="#a3a6cc" transform="rotate(-80.5 662.84 236.30)" stroke="#a3a6cc" stroke-width="0.18">protein stabilization</text>
<line x1="670.01" y1="230.50" x2="670.01" y2="232.90" stroke="#222" stroke-width="1.0"/>
<text x="668.91" y="236.30" font-size="4.9" text-anchor="end" fill="#a3a6cc" transform="rotate(-80.5 668.91 236.30)" stroke="#a3a6cc" stroke-width="0.18">cell-matrix adhesion</text>
<line x1="676.08" y1="230.50" x2="676.08" y2="232.90" stroke="#222" stroke-width="1.0"/>
<text x="674.98" y="236.30" font-size="4.9" text-anchor="end" fill="#a3a6cc" transform="rotate(-80.5 674.98 236.30)" stroke="#a3a6cc" stroke-width="0.18">negative regulation of apoptotic process</text>
<line x1="682.15" y1="230.50" x2="682.15" y2="232.90" stroke="#222" stroke-width="1.0"/>
<text x="681.05" y="236.30" font-size="4.9" text-anchor="end" fill="#a3a6cc" transform="rotate(-80.5 681.05 236.30)" stroke="#a3a6cc" stroke-width="0.18">actin cytoskeleton organization</text>
<line x1="688.22" y1="230.50" x2="688.22" y2="232.90" stroke="#222" stroke-width="1.0"/>
<text x="687.12" y="236.30" font-size="4.9" text-anchor="end" fill="#a3a6cc" transform="rotate(-80.5 687.12 236.30)" stroke="#a3a6cc" stroke-width="0.18">positive regulation of platelet activation</text>
<line x1="694.29" y1="230.50" x2="694.29" y2="232.90" stroke="#222" stroke-width="1.0"/>
<text x="693.19" y="236.30" font-size="4.9" text-anchor="end" fill="#a3a6cc" transform="rotate(-80.5 693.19 236.30)" stroke="#a3a6cc" stroke-width="0.18">positive regulation of actin filament bundle assembly</text>
<line x1="700.36" y1="230.50" x2="700.36" y2="232.90" stroke="#222" stroke-width="1.0"/>
<text x="699.26" y="236.30" font-size="4.9" text-anchor="end" fill="#a3a6cc" transform="rotate(-80.5 699.26 236.30)" stroke="#a3a6cc" stroke-width="0.18">response to oxidative stress</text>
<line x1="706.43" y1="230.50" x2="706.43" y2="232.90" stroke="#222" stroke-width="1.0"/>
<text x="705.33" y="236.30" font-size="4.9" text-anchor="end" fill="#a3a6cc" transform="rotate(-80.5 705.33 236.30)" stroke="#a3a6cc" stroke-width="0.18">adaptive immune response</text>
<line x1="712.50" y1="230.50" x2="712.50" y2="232.90" stroke="#222" stroke-width="1.0"/>
<text x="711.40" y="236.30" font-size="4.9" text-anchor="end" fill="#a3a6cc" transform="rotate(-80.5 711.40 236.30)" stroke="#a3a6cc" stroke-width="0.18">T cell proliferation</text>
<line x1="718.57" y1="230.50" x2="718.57" y2="232.90" stroke="#222" stroke-width="1.0"/>
<text x="717.47" y="236.30" font-size="4.9" text-anchor="end" fill="#a3a6cc" transform="rotate(-80.5 717.47 236.30)" stroke="#a3a6cc" stroke-width="0.18">gluconeogenesis</text>
<line x1="724.64" y1="230.50" x2="724.64" y2="232.90" stroke="#222" stroke-width="1.0"/>
<text x="723.54" y="236.30" font-size="4.9" text-anchor="end" fill="#a3a6cc" transform="rotate(-80.5 723.54 236.30)" stroke="#a3a6cc" stroke-width="0.18">response to lipopolysaccharide</text>
<line x1="730.71" y1="230.50" x2="730.71" y2="232.90" stroke="#222" stroke-width="1.0"/>
<text x="729.61" y="236.30" font-size="4.9" text-anchor="end" fill="#a3a6cc" transform="rotate(-80.5 729.61 236.30)" stroke="#a3a6cc" stroke-width="0.18">postsynaptic actin cytoskeleton organization</text>
<line x1="736.78" y1="230.50" x2="736.78" y2="232.90" stroke="#222" stroke-width="1.0"/>
<text x="735.68" y="236.30" font-size="4.9" text-anchor="end" fill="#a3a6cc" transform="rotate(-80.5 735.68 236.30)" stroke="#a3a6cc" stroke-width="0.18">canonical glycolysis</text>
<line x1="742.85" y1="230.50" x2="742.85" y2="232.90" stroke="#222" stroke-width="1.0"/>
<text x="741.75" y="236.30" font-size="4.9" text-anchor="end" fill="#a3a6cc" transform="rotate(-80.5 741.75 236.30)" stroke="#a3a6cc" stroke-width="0.18">cellular response to oxidative stress</text>
<line x1="748.92" y1="230.50" x2="748.92" y2="232.90" stroke="#222" stroke-width="1.0"/>
<text x="747.82" y="236.30" font-size="4.9" text-anchor="end" fill="#a3a6cc" transform="rotate(-80.5 747.82 236.30)" stroke="#a3a6cc" stroke-width="0.18">cytoskeleton organization</text>
<line x1="754.99" y1="230.50" x2="754.99" y2="232.90" stroke="#222" stroke-width="1.0"/>
<text x="753.89" y="236.30" font-size="4.9" text-anchor="end" fill="#a3a6cc" transform="rotate(-80.5 753.89 236.30)" stroke="#a3a6cc" stroke-width="0.18">glyceraldehyde-3-phosphate metabolic process</text>
<line x1="761.06" y1="230.50" x2="761.06" y2="232.90" stroke="#222" stroke-width="1.0"/>
<text x="759.96" y="236.30" font-size="4.9" text-anchor="end" fill="#a3a6cc" transform="rotate(-80.5 759.96 236.30)" stroke="#a3a6cc" stroke-width="0.18">neutrophil chemotaxis</text>
<line x1="773.20" y1="230.50" x2="773.20" y2="232.90" stroke="#222" stroke-width="1.0"/>
<text x="772.10" y="236.30" font-size="4.9" text-anchor="end" fill="#aeb7ef" transform="rotate(-80.5 772.10 236.30)" stroke="#aeb7ef" stroke-width="0.18">secretory granule</text>
<line x1="779.27" y1="230.50" x2="779.27" y2="232.90" stroke="#222" stroke-width="1.0"/>
<text x="778.17" y="236.30" font-size="4.9" text-anchor="end" fill="#aeb7ef" transform="rotate(-80.5 778.17 236.30)" stroke="#aeb7ef" stroke-width="0.18">adherens junction</text>
<line x1="785.34" y1="230.50" x2="785.34" y2="232.90" stroke="#222" stroke-width="1.0"/>
<text x="784.24" y="236.30" font-size="4.9" text-anchor="end" fill="#aeb7ef" transform="rotate(-80.5 784.24 236.30)" stroke="#aeb7ef" stroke-width="0.18">lamellipodium</text>
<line x1="791.41" y1="230.50" x2="791.41" y2="232.90" stroke="#222" stroke-width="1.0"/>
<text x="790.31" y="236.30" font-size="4.9" text-anchor="end" fill="#aeb7ef" transform="rotate(-80.5 790.31 236.30)" stroke="#aeb7ef" stroke-width="0.18">ruffle membrane</text>
<line x1="797.48" y1="230.50" x2="797.48" y2="232.90" stroke="#222" stroke-width="1.0"/>
<text x="796.38" y="236.30" font-size="4.9" text-anchor="end" fill="#aeb7ef" transform="rotate(-80.5 796.38 236.30)" stroke="#aeb7ef" stroke-width="0.18">glutamatergic synapse</text>
<line x1="803.55" y1="230.50" x2="803.55" y2="232.90" stroke="#222" stroke-width="1.0"/>
<text x="802.45" y="236.30" font-size="4.9" text-anchor="end" fill="#aeb7ef" transform="rotate(-80.5 802.45 236.30)" stroke="#aeb7ef" stroke-width="0.18">cell surface</text>
<line x1="809.62" y1="230.50" x2="809.62" y2="232.90" stroke="#222" stroke-width="1.0"/>
<text x="808.52" y="236.30" font-size="4.9" text-anchor="end" fill="#aeb7ef" transform="rotate(-80.5 808.52 236.30)" stroke="#aeb7ef" stroke-width="0.18">membrane raft</text>
<line x1="815.69" y1="230.50" x2="815.69" y2="232.90" stroke="#222" stroke-width="1.0"/>
<text x="814.59" y="236.30" font-size="4.9" text-anchor="end" fill="#aeb7ef" transform="rotate(-80.5 814.59 236.30)" stroke="#aeb7ef" stroke-width="0.18">perinuclear region of cytoplasm</text>
<line x1="821.76" y1="230.50" x2="821.76" y2="232.90" stroke="#222" stroke-width="1.0"/>
<text x="820.66" y="236.30" font-size="4.9" text-anchor="end" fill="#aeb7ef" transform="rotate(-80.5 820.66 236.30)" stroke="#aeb7ef" stroke-width="0.18">phagocytic vesicle</text>
<line x1="827.83" y1="230.50" x2="827.83" y2="232.90" stroke="#222" stroke-width="1.0"/>
<text x="826.73" y="236.30" font-size="4.9" text-anchor="end" fill="#aeb7ef" transform="rotate(-80.5 826.73 236.30)" stroke="#aeb7ef" stroke-width="0.18">stress fiber</text>
<line x1="833.90" y1="230.50" x2="833.90" y2="232.90" stroke="#222" stroke-width="1.0"/>
<text x="832.80" y="236.30" font-size="4.9" text-anchor="end" fill="#aeb7ef" transform="rotate(-80.5 832.80 236.30)" stroke="#aeb7ef" stroke-width="0.18">endoplasmic reticulum lumen</text>
<line x1="839.97" y1="230.50" x2="839.97" y2="232.90" stroke="#222" stroke-width="1.0"/>
<text x="838.87" y="236.30" font-size="4.9" text-anchor="end" fill="#aeb7ef" transform="rotate(-80.5 838.87 236.30)" stroke="#aeb7ef" stroke-width="0.18">platelet alpha granule</text>
<line x1="846.04" y1="230.50" x2="846.04" y2="232.90" stroke="#222" stroke-width="1.0"/>
<text x="844.94" y="236.30" font-size="4.9" text-anchor="end" fill="#aeb7ef" transform="rotate(-80.5 844.94 236.30)" stroke="#aeb7ef" stroke-width="0.18">sarcomere</text>
<line x1="852.11" y1="230.50" x2="852.11" y2="232.90" stroke="#222" stroke-width="1.0"/>
<text x="851.01" y="236.30" font-size="4.9" text-anchor="end" fill="#aeb7ef" transform="rotate(-80.5 851.01 236.30)" stroke="#aeb7ef" stroke-width="0.18">brush border</text>
<line x1="858.18" y1="230.50" x2="858.18" y2="232.90" stroke="#222" stroke-width="1.0"/>
<text x="857.08" y="236.30" font-size="4.9" text-anchor="end" fill="#aeb7ef" transform="rotate(-80.5 857.08 236.30)" stroke="#aeb7ef" stroke-width="0.18">cortical cytoskeleton</text>
<line x1="864.25" y1="230.50" x2="864.25" y2="232.90" stroke="#222" stroke-width="1.0"/>
<text x="863.15" y="236.30" font-size="4.9" text-anchor="end" fill="#aeb7ef" transform="rotate(-80.5 863.15 236.30)" stroke="#aeb7ef" stroke-width="0.18">lipid droplet</text>
<line x1="870.32" y1="230.50" x2="870.32" y2="232.90" stroke="#222" stroke-width="1.0"/>
<text x="869.22" y="236.30" font-size="4.9" text-anchor="end" fill="#aeb7ef" transform="rotate(-80.5 869.22 236.30)" stroke="#aeb7ef" stroke-width="0.18">specific granule lumen</text>
<line x1="876.39" y1="230.50" x2="876.39" y2="232.90" stroke="#222" stroke-width="1.0"/>
<text x="875.29" y="236.30" font-size="4.9" text-anchor="end" fill="#aeb7ef" transform="rotate(-80.5 875.29 236.30)" stroke="#aeb7ef" stroke-width="0.18">cell cortex</text>
<line x1="882.46" y1="230.50" x2="882.46" y2="232.90" stroke="#222" stroke-width="1.0"/>
<text x="881.36" y="236.30" font-size="4.9" text-anchor="end" fill="#aeb7ef" transform="rotate(-80.5 881.36 236.30)" stroke="#aeb7ef" stroke-width="0.18">muscle thin filament tropomyosin</text>
<line x1="888.53" y1="230.50" x2="888.53" y2="232.90" stroke="#222" stroke-width="1.0"/>
<text x="887.43" y="236.30" font-size="4.9" text-anchor="end" fill="#aeb7ef" transform="rotate(-80.5 887.43 236.30)" stroke="#aeb7ef" stroke-width="0.18">phagocytic vesicle lumen</text>
<line x1="900.67" y1="230.50" x2="900.67" y2="232.90" stroke="#222" stroke-width="1.0"/>
<text x="899.57" y="236.30" font-size="4.9" text-anchor="end" fill="#c6d8f3" transform="rotate(-80.5 899.57 236.30)" stroke="#c6d8f3" stroke-width="0.18">hemoglobin alpha binding</text>
<line x1="906.74" y1="230.50" x2="906.74" y2="232.90" stroke="#222" stroke-width="1.0"/>
<text x="905.64" y="236.30" font-size="4.9" text-anchor="end" fill="#c6d8f3" transform="rotate(-80.5 905.64 236.30)" stroke="#c6d8f3" stroke-width="0.18">peroxiredoxin activity</text>
<line x1="912.81" y1="230.50" x2="912.81" y2="232.90" stroke="#222" stroke-width="1.0"/>
<text x="911.71" y="236.30" font-size="4.9" text-anchor="end" fill="#c6d8f3" transform="rotate(-80.5 911.71 236.30)" stroke="#c6d8f3" stroke-width="0.18">protein kinase C binding</text>
<line x1="918.88" y1="230.50" x2="918.88" y2="232.90" stroke="#222" stroke-width="1.0"/>
<text x="917.78" y="236.30" font-size="4.9" text-anchor="end" fill="#c6d8f3" transform="rotate(-80.5 917.78 236.30)" stroke="#c6d8f3" stroke-width="0.18">cytoskeletal protein binding</text>
<line x1="924.95" y1="230.50" x2="924.95" y2="232.90" stroke="#222" stroke-width="1.0"/>
<text x="923.85" y="236.30" font-size="4.9" text-anchor="end" fill="#c6d8f3" transform="rotate(-80.5 923.85 236.30)" stroke="#c6d8f3" stroke-width="0.18">actin monomer binding</text>
<line x1="931.02" y1="230.50" x2="931.02" y2="232.90" stroke="#222" stroke-width="1.0"/>
<text x="929.92" y="236.30" font-size="4.9" text-anchor="end" fill="#c6d8f3" transform="rotate(-80.5 929.92 236.30)" stroke="#c6d8f3" stroke-width="0.18">serine-type peptidase activity</text>
<line x1="937.09" y1="230.50" x2="937.09" y2="232.90" stroke="#222" stroke-width="1.0"/>
<text x="935.99" y="236.30" font-size="4.9" text-anchor="end" fill="#c6d8f3" transform="rotate(-80.5 935.99 236.30)" stroke="#c6d8f3" stroke-width="0.18">protease binding</text>
<line x1="943.16" y1="230.50" x2="943.16" y2="232.90" stroke="#222" stroke-width="1.0"/>
<text x="942.06" y="236.30" font-size="4.9" text-anchor="end" fill="#c6d8f3" transform="rotate(-80.5 942.06 236.30)" stroke="#c6d8f3" stroke-width="0.18">G protein-coupled receptor binding</text>
<line x1="949.23" y1="230.50" x2="949.23" y2="232.90" stroke="#222" stroke-width="1.0"/>
<text x="948.13" y="236.30" font-size="4.9" text-anchor="end" fill="#c6d8f3" transform="rotate(-80.5 948.13 236.30)" stroke="#c6d8f3" stroke-width="0.18">structural constituent of postsynaptic actin cytoskeleton</text>
<line x1="955.30" y1="230.50" x2="955.30" y2="232.90" stroke="#222" stroke-width="1.0"/>
<text x="954.20" y="236.30" font-size="4.9" text-anchor="end" fill="#c6d8f3" transform="rotate(-80.5 954.20 236.30)" stroke="#c6d8f3" stroke-width="0.18">protein sequestering activity</text>
<line x1="961.37" y1="230.50" x2="961.37" y2="232.90" stroke="#222" stroke-width="1.0"/>
<text x="960.27" y="236.30" font-size="4.9" text-anchor="end" fill="#c6d8f3" transform="rotate(-80.5 960.27 236.30)" stroke="#c6d8f3" stroke-width="0.18">protein homodimerization activity</text>
<line x1="967.44" y1="230.50" x2="967.44" y2="232.90" stroke="#222" stroke-width="1.0"/>
<text x="966.34" y="236.30" font-size="4.9" text-anchor="end" fill="#c6d8f3" transform="rotate(-80.5 966.34 236.30)" stroke="#c6d8f3" stroke-width="0.18">DNA binding</text>
<line x1="973.51" y1="230.50" x2="973.51" y2="232.90" stroke="#222" stroke-width="1.0"/>
<text x="972.41" y="236.30" font-size="4.9" text-anchor="end" fill="#c6d8f3" transform="rotate(-80.5 972.41 236.30)" stroke="#c6d8f3" stroke-width="0.18">heme binding</text>
<line x1="979.58" y1="230.50" x2="979.58" y2="232.90" stroke="#222" stroke-width="1.0"/>
<text x="978.48" y="236.30" font-size="4.9" text-anchor="end" fill="#c6d8f3" transform="rotate(-80.5 978.48 236.30)" stroke="#c6d8f3" stroke-width="0.18">protein domain specific binding</text>
<line x1="985.65" y1="230.50" x2="985.65" y2="232.90" stroke="#222" stroke-width="1.0"/>
<text x="984.55" y="236.30" font-size="4.9" text-anchor="end" fill="#c6d8f3" transform="rotate(-80.5 984.55 236.30)" stroke="#c6d8f3" stroke-width="0.18">cyanamide hydratase activity</text>
<line x1="991.72" y1="230.50" x2="991.72" y2="232.90" stroke="#222" stroke-width="1.0"/>
<text x="990.62" y="236.30" font-size="4.9" text-anchor="end" fill="#c6d8f3" transform="rotate(-80.5 990.62 236.30)" stroke="#c6d8f3" stroke-width="0.18">protein-disulfide reductase (NAD(P)H) activity</text>
<line x1="997.79" y1="230.50" x2="997.79" y2="232.90" stroke="#222" stroke-width="1.0"/>
<text x="996.69" y="236.30" font-size="4.9" text-anchor="end" fill="#c6d8f3" transform="rotate(-80.5 996.69 236.30)" stroke="#c6d8f3" stroke-width="0.18">Rho GDP-dissociation inhibitor activity</text>
<line x1="1003.86" y1="230.50" x2="1003.86" y2="232.90" stroke="#222" stroke-width="1.0"/>
<text x="1002.76" y="236.30" font-size="4.9" text-anchor="end" fill="#c6d8f3" transform="rotate(-80.5 1002.76 236.30)" stroke="#c6d8f3" stroke-width="0.18">dynein light intermediate chain binding</text>
<line x1="1009.93" y1="230.50" x2="1009.93" y2="232.90" stroke="#222" stroke-width="1.0"/>
<text x="1008.83" y="236.30" font-size="4.9" text-anchor="end" fill="#c6d8f3" transform="rotate(-80.5 1008.83 236.30)" stroke="#c6d8f3" stroke-width="0.18">serine-type endopeptidase activity</text>
<line x1="1016.00" y1="230.50" x2="1016.00" y2="232.90" stroke="#222" stroke-width="1.0"/>
<text x="1014.90" y="236.30" font-size="4.9" text-anchor="end" fill="#c6d8f3" transform="rotate(-80.5 1014.90 236.30)" stroke="#c6d8f3" stroke-width="0.18">peptidyl-cysteine S-nitrosylase activity</text>
<path d="M648.16,232.50 L612.40,441.70 L726.40,441.70 L762.16,232.50" fill="none" stroke="#dfe0f0" stroke-width="0.9"/>
<text x="631.40" y="454.60" font-size="8.2" fill="#a6a9cc">Biological process</text>
<path d="M769.36,232.50 L733.60,441.70 L854.00,441.70 L889.76,232.50" fill="none" stroke="#dfe2f8" stroke-width="0.9"/>
<text x="742.00" y="454.60" font-size="8.2" fill="#b0baf0">Cellular component</text>
<path d="M896.96,232.50 L861.20,441.70 L981.00,441.70 L1016.76,232.50" fill="none" stroke="#e7eff9" stroke-width="0.9"/>
<text x="875.60" y="454.60" font-size="8.2" fill="#cbdcf4">Molecular function</text>
<rect x="979.70" y="26.80" width="16.00" height="5.20" fill="#aeb0cf"/>
<text transform="translate(1002.70 32.85) scale(0.87 1)" font-size="9.2" fill="#1a1a1a">BP</text>
<rect x="979.70" y="38.30" width="16.00" height="5.30" fill="#b8c0f0"/>
<text transform="translate(1002.70 44.40) scale(0.87 1)" font-size="9.2" fill="#1a1a1a">CC</text>
<rect x="979.70" y="50.00" width="16.00" height="5.30" fill="#ccddf3"/>
<text transform="translate(1002.70 56.10) scale(0.87 1)" font-size="9.2" fill="#1a1a1a">MF</text>
<rect x="1309.20" y="6.91" width="7.60" height="229.39" fill="#aeb0cf"/>
<rect x="1319.10" y="6.91" width="7.60" height="229.39" fill="#aeb0cf"/>
<rect x="1329.00" y="6.91" width="7.60" height="229.39" fill="#aeb0cf"/>
<rect x="1338.90" y="6.91" width="7.60" height="229.39" fill="#aeb0cf"/>
<rect x="1348.80" y="6.91" width="7.60" height="229.39" fill="#aeb0cf"/>
<rect x="1358.70" y="6.91" width="7.60" height="229.39" fill="#aeb0cf"/>
<rect x="1368.60" y="6.91" width="7.60" height="229.39" fill="#aeb0cf"/>
<rect x="1378.50" y="6.91" width="7.60" height="229.39" fill="#aeb0cf"/>
<rect x="1388.40" y="6.91" width="7.60" height="229.39" fill="#aeb0cf"/>
<rect x="1398.30" y="28.22" width="7.60" height="208.08" fill="#aeb0cf"/>
<rect x="1418.10" y="61.31" width="7.60" height="174.99" fill="#b8c0f0"/>
<rect x="1428.00" y="61.31" width="7.60" height="174.99" fill="#b8c0f0"/>
<rect x="1437.90" y="61.31" width="7.60" height="174.99" fill="#b8c0f0"/>
<rect x="1447.80" y="61.31" width="7.60" height="174.99" fill="#b8c0f0"/>
<rect x="1457.70" y="90.39" width="7.60" height="145.91" fill="#b8c0f0"/>
<rect x="1467.60" y="100.67" width="7.60" height="135.63" fill="#b8c0f0"/>
<rect x="1477.50" y="119.98" width="7.60" height="116.32" fill="#b8c0f0"/>
<rect x="1487.40" y="119.98" width="7.60" height="116.32" fill="#b8c0f0"/>
<rect x="1497.30" y="120.48" width="7.60" height="115.82" fill="#b8c0f0"/>
<rect x="1507.20" y="142.29" width="7.60" height="94.01" fill="#b8c0f0"/>
<rect x="1527.00" y="118.72" width="7.60" height="117.58" fill="#ccddf3"/>
<rect x="1536.90" y="118.72" width="7.60" height="117.58" fill="#ccddf3"/>
<rect x="1546.80" y="118.72" width="7.60" height="117.58" fill="#ccddf3"/>
<rect x="1556.70" y="118.72" width="7.60" height="117.58" fill="#ccddf3"/>
<rect x="1566.60" y="118.72" width="7.60" height="117.58" fill="#ccddf3"/>
<rect x="1576.50" y="207.47" width="7.60" height="28.83" fill="#ccddf3"/>
<rect x="1586.40" y="207.47" width="7.60" height="28.83" fill="#ccddf3"/>
<rect x="1596.30" y="230.03" width="7.60" height="6.27" fill="#ccddf3"/>
<rect x="1606.20" y="232.29" width="7.60" height="4.01" fill="#ccddf3"/>
<rect x="1616.10" y="233.54" width="7.60" height="2.76" fill="#ccddf3"/>
<line x1="1302.70" y1="6.80" x2="1302.70" y2="236.90" stroke="#7a7a7a" stroke-width="1.8"/>
<line x1="1299.60" y1="236.30" x2="1630.20" y2="236.30" stroke="#222" stroke-width="1.2"/>
<line x1="1299.90" y1="236.30" x2="1302.70" y2="236.30" stroke="#333" stroke-width="1.0"/>
<text x="1298.70" y="239.83" font-size="9.8" text-anchor="end" fill="#1a1a1a">0.0</text>
<line x1="1299.90" y1="186.16" x2="1302.70" y2="186.16" stroke="#333" stroke-width="1.0"/>
<text x="1298.70" y="189.69" font-size="9.8" text-anchor="end" fill="#1a1a1a">0.2</text>
<line x1="1299.90" y1="136.02" x2="1302.70" y2="136.02" stroke="#333" stroke-width="1.0"/>
<text x="1298.70" y="139.55" font-size="9.8" text-anchor="end" fill="#1a1a1a">0.4</text>
<line x1="1299.90" y1="85.88" x2="1302.70" y2="85.88" stroke="#333" stroke-width="1.0"/>
<text x="1298.70" y="89.41" font-size="9.8" text-anchor="end" fill="#1a1a1a">0.6</text>
<line x1="1299.90" y1="35.74" x2="1302.70" y2="35.74" stroke="#333" stroke-width="1.0"/>
<text x="1298.70" y="39.27" font-size="9.8" text-anchor="end" fill="#1a1a1a">0.8</text>
<text x="1281.40" y="121.80" font-size="11.0" text-anchor="middle" fill="#111" transform="rotate(-90 1281.40 121.80)">Enrichment score</text>
<line x1="1313.00" y1="236.30" x2="1313.00" y2="239.10" stroke="#222" stroke-width="1.0"/>
<text x="1311.90" y="242.30" font-size="5.68" text-anchor="end" fill="#a3a6cc" transform="rotate(-80.5 1311.90 242.30)" stroke="#a3a6cc" stroke-width="0.18">positive regulation of blood vessel endothelial cell migration</text>
<line x1="1322.90" y1="236.30" x2="1322.90" y2="239.10" stroke="#222" stroke-width="1.0"/>
<text x="1321.80" y="242.30" font-size="5.68" text-anchor="end" fill="#a3a6cc" transform="rotate(-80.5 1321.80 242.30)" stroke="#a3a6cc" stroke-width="0.18">chromatin remodeling</text>
<line x1="1332.80" y1="236.30" x2="1332.80" y2="239.10" stroke="#222" stroke-width="1.0"/>
<text x="1331.70" y="242.30" font-size="5.68" text-anchor="end" fill="#a3a6cc" transform="rotate(-80.5 1331.70 242.30)" stroke="#a3a6cc" stroke-width="0.18">positive regulation of heart rate by epinephrine-norepinephrine</text>
<line x1="1342.70" y1="236.30" x2="1342.70" y2="239.10" stroke="#222" stroke-width="1.0"/>
<text x="1341.60" y="242.30" font-size="5.68" text-anchor="end" fill="#a3a6cc" transform="rotate(-80.5 1341.60 242.30)" stroke="#a3a6cc" stroke-width="0.18">phospholipase C-activating adrenergic receptor signaling pathway</text>
<line x1="1352.60" y1="236.30" x2="1352.60" y2="239.10" stroke="#222" stroke-width="1.0"/>
<text x="1351.50" y="242.30" font-size="5.68" text-anchor="end" fill="#a3a6cc" transform="rotate(-80.5 1351.50 242.30)" stroke="#a3a6cc" stroke-width="0.18">positive regulation of the force of heart contraction by epinephrine-norepinephrine</text>
<line x1="1362.50" y1="236.30" x2="1362.50" y2="239.10" stroke="#222" stroke-width="1.0"/>
<text x="1361.40" y="242.30" font-size="5.68" text-anchor="end" fill="#a3a6cc" transform="rotate(-80.5 1361.40 242.30)" stroke="#a3a6cc" stroke-width="0.18">positive regulation of phosphatidylinositol 3-kinase/protein kinase B signal transduction</text>
<line x1="1372.40" y1="236.30" x2="1372.40" y2="239.10" stroke="#222" stroke-width="1.0"/>
<text x="1371.30" y="242.30" font-size="5.68" text-anchor="end" fill="#a3a6cc" transform="rotate(-80.5 1371.30 242.30)" stroke="#a3a6cc" stroke-width="0.18">positive regulation of DNA-templated transcription</text>
<line x1="1382.30" y1="236.30" x2="1382.30" y2="239.10" stroke="#222" stroke-width="1.0"/>
<text x="1381.20" y="242.30" font-size="5.68" text-anchor="end" fill="#a3a6cc" transform="rotate(-80.5 1381.20 242.30)" stroke="#a3a6cc" stroke-width="0.18">positive regulation of ERK1 and ERK2 cascade</text>
<line x1="1392.20" y1="236.30" x2="1392.20" y2="239.10" stroke="#222" stroke-width="1.0"/>
<text x="1391.10" y="242.30" font-size="5.68" text-anchor="end" fill="#a3a6cc" transform="rotate(-80.5 1391.10 242.30)" stroke="#a3a6cc" stroke-width="0.18">negative regulation of cell population proliferation</text>
<line x1="1402.10" y1="236.30" x2="1402.10" y2="239.10" stroke="#222" stroke-width="1.0"/>
<text x="1401.00" y="242.30" font-size="5.68" text-anchor="end" fill="#a3a6cc" transform="rotate(-80.5 1401.00 242.30)" stroke="#a3a6cc" stroke-width="0.18">regulation of gene expression</text>
<line x1="1421.90" y1="236.30" x2="1421.90" y2="239.10" stroke="#222" stroke-width="1.0"/>
<text x="1420.80" y="242.30" font-size="5.68" text-anchor="end" fill="#aeb7ef" transform="rotate(-80.5 1420.80 242.30)" stroke="#aeb7ef" stroke-width="0.18">extracellular exosome</text>
<line x1="1431.80" y1="236.30" x2="1431.80" y2="239.10" stroke="#222" stroke-width="1.0"/>
<text x="1430.70" y="242.30" font-size="5.68" text-anchor="end" fill="#aeb7ef" transform="rotate(-80.5 1430.70 242.30)" stroke="#aeb7ef" stroke-width="0.18">male germ cell nucleus</text>
<line x1="1441.70" y1="236.30" x2="1441.70" y2="239.10" stroke="#222" stroke-width="1.0"/>
<text x="1440.60" y="242.30" font-size="5.68" text-anchor="end" fill="#aeb7ef" transform="rotate(-80.5 1440.60 242.30)" stroke="#aeb7ef" stroke-width="0.18">euchromatin</text>
<line x1="1451.60" y1="236.30" x2="1451.60" y2="239.10" stroke="#222" stroke-width="1.0"/>
<text x="1450.50" y="242.30" font-size="5.68" text-anchor="end" fill="#aeb7ef" transform="rotate(-80.5 1450.50 242.30)" stroke="#aeb7ef" stroke-width="0.18">caveola</text>
<line x1="1461.50" y1="236.30" x2="1461.50" y2="239.10" stroke="#222" stroke-width="1.0"/>
<text x="1460.40" y="242.30" font-size="5.68" text-anchor="end" fill="#aeb7ef" transform="rotate(-80.5 1460.40 242.30)" stroke="#aeb7ef" stroke-width="0.18">protein-containing complex</text>
<line x1="1471.40" y1="236.30" x2="1471.40" y2="239.10" stroke="#222" stroke-width="1.0"/>
<text x="1470.30" y="242.30" font-size="5.68" text-anchor="end" fill="#aeb7ef" transform="rotate(-80.5 1470.30 242.30)" stroke="#aeb7ef" stroke-width="0.18">nuclear membrane</text>
<line x1="1481.30" y1="236.30" x2="1481.30" y2="239.10" stroke="#222" stroke-width="1.0"/>
<text x="1480.20" y="242.30" font-size="5.68" text-anchor="end" fill="#aeb7ef" transform="rotate(-80.5 1480.20 242.30)" stroke="#aeb7ef" stroke-width="0.18">nucleoplasm</text>
<line x1="1491.20" y1="236.30" x2="1491.20" y2="239.10" stroke="#222" stroke-width="1.0"/>
<text x="1490.10" y="242.30" font-size="5.68" text-anchor="end" fill="#aeb7ef" transform="rotate(-80.5 1490.10 242.30)" stroke="#aeb7ef" stroke-width="0.18">membrane</text>
<line x1="1501.10" y1="236.30" x2="1501.10" y2="239.10" stroke="#222" stroke-width="1.0"/>
<text x="1500.00" y="242.30" font-size="5.68" text-anchor="end" fill="#aeb7ef" transform="rotate(-80.5 1500.00 242.30)" stroke="#aeb7ef" stroke-width="0.18">receptor complex</text>
<line x1="1511.00" y1="236.30" x2="1511.00" y2="239.10" stroke="#222" stroke-width="1.0"/>
<text x="1509.90" y="242.30" font-size="5.68" text-anchor="end" fill="#aeb7ef" transform="rotate(-80.5 1509.90 242.30)" stroke="#aeb7ef" stroke-width="0.18">cytosol</text>
<line x1="1530.80" y1="236.30" x2="1530.80" y2="239.10" stroke="#222" stroke-width="1.0"/>
<text x="1529.70" y="242.30" font-size="5.68" text-anchor="end" fill="#c6d8f3" transform="rotate(-80.5 1529.70 242.30)" stroke="#c6d8f3" stroke-width="0.18">protein heterodimerization activity</text>
<line x1="1540.70" y1="236.30" x2="1540.70" y2="239.10" stroke="#222" stroke-width="1.0"/>
<text x="1539.60" y="242.30" font-size="5.68" text-anchor="end" fill="#c6d8f3" transform="rotate(-80.5 1539.60 242.30)" stroke="#c6d8f3" stroke-width="0.18">protein tyrosine phosphatase activity</text>
<line x1="1550.60" y1="236.30" x2="1550.60" y2="239.10" stroke="#222" stroke-width="1.0"/>
<text x="1549.50" y="242.30" font-size="5.68" text-anchor="end" fill="#c6d8f3" transform="rotate(-80.5 1549.50 242.30)" stroke="#c6d8f3" stroke-width="0.18">non-membrane spanning protein tyrosine phosphatase activity</text>
<line x1="1560.50" y1="236.30" x2="1560.50" y2="239.10" stroke="#222" stroke-width="1.0"/>
<text x="1559.40" y="242.30" font-size="5.68" text-anchor="end" fill="#c6d8f3" transform="rotate(-80.5 1559.40 242.30)" stroke="#c6d8f3" stroke-width="0.18">protein tyrosine phosphatase activity, metal-dependent</text>
<line x1="1570.40" y1="236.30" x2="1570.40" y2="239.10" stroke="#222" stroke-width="1.0"/>
<text x="1569.30" y="242.30" font-size="5.68" text-anchor="end" fill="#c6d8f3" transform="rotate(-80.5 1569.30 242.30)" stroke="#c6d8f3" stroke-width="0.18">histone H2AXY142 phosphatase activity</text>
<line x1="1580.30" y1="236.30" x2="1580.30" y2="239.10" stroke="#222" stroke-width="1.0"/>
<text x="1579.20" y="242.30" font-size="5.68" text-anchor="end" fill="#c6d8f3" transform="rotate(-80.5 1579.20 242.30)" stroke="#c6d8f3" stroke-width="0.18">protein homodimerization activity</text>
<line x1="1590.20" y1="236.30" x2="1590.20" y2="239.10" stroke="#222" stroke-width="1.0"/>
<text x="1589.10" y="242.30" font-size="5.68" text-anchor="end" fill="#c6d8f3" transform="rotate(-80.5 1589.10 242.30)" stroke="#c6d8f3" stroke-width="0.18">transmembrane receptor protein tyrosine phosphatase activity</text>
<line x1="1600.10" y1="236.30" x2="1600.10" y2="239.10" stroke="#222" stroke-width="1.0"/>
<text x="1599.00" y="242.30" font-size="5.68" text-anchor="end" fill="#c6d8f3" transform="rotate(-80.5 1599.00 242.30)" stroke="#c6d8f3" stroke-width="0.18">protein kinase binding</text>
<line x1="1610.00" y1="236.30" x2="1610.00" y2="239.10" stroke="#222" stroke-width="1.0"/>
<text x="1608.90" y="242.30" font-size="5.68" text-anchor="end" fill="#c6d8f3" transform="rotate(-80.5 1608.90 242.30)" stroke="#c6d8f3" stroke-width="0.18">protein domain specific binding</text>
<line x1="1619.90" y1="236.30" x2="1619.90" y2="239.10" stroke="#222" stroke-width="1.0"/>
<text x="1618.80" y="242.30" font-size="5.68" text-anchor="end" fill="#c6d8f3" transform="rotate(-80.5 1618.80 242.30)" stroke="#c6d8f3" stroke-width="0.18">metal ion binding</text>
<path d="M1307.84,238.50 L1268.10,466.20 L1365.10,466.20 L1404.84,238.50" fill="none" stroke="#dfe0f0" stroke-width="0.9"/>
<text x="1279.60" y="480.00" font-size="9.9" fill="#a6a9cc">Biological process</text>
<path d="M1417.14,238.50 L1377.40,466.20 L1474.50,466.20 L1514.24,238.50" fill="none" stroke="#dfe2f8" stroke-width="0.9"/>
<text x="1374.50" y="480.00" font-size="9.9" fill="#b0baf0">Cellular component</text>
<path d="M1525.74,238.50 L1486.00,466.20 L1583.30,466.20 L1623.04,238.50" fill="none" stroke="#e7eff9" stroke-width="0.9"/>
<text x="1491.60" y="480.00" font-size="9.9" fill="#cbdcf4">Molecular function</text>
<rect x="1593.40" y="13.60" width="13.60" height="4.90" fill="#aeb0cf"/>
<text transform="translate(1613.30 18.90) scale(0.9 1)" font-size="7.6" fill="#1a1a1a">BP</text>
<rect x="1593.40" y="23.70" width="13.60" height="4.90" fill="#b8c0f0"/>
<text transform="translate(1613.30 29.00) scale(0.9 1)" font-size="7.6" fill="#1a1a1a">CC</text>
<rect x="1593.40" y="33.50" width="13.60" height="4.90" fill="#ccddf3"/>
<text transform="translate(1613.30 38.80) scale(0.9 1)" font-size="7.6" fill="#1a1a1a">MF</text>
<defs><clipPath id="clipD"><rect x="517.9" y="0" width="178.70000000000005" height="918"/></clipPath><clipPath id="clipDb"><rect x="516.6" y="0" width="180.0" height="918"/></clipPath></defs>
<g clip-path="url(#clipD)">
<text x="690.60" y="591.21" font-size="9.6" text-anchor="end" fill="#111" stroke="#111" stroke-width="0.22">Carbon metabolism</text>
</g>
<g clip-path="url(#clipD)">
<text x="690.60" y="602.78" font-size="9.6" text-anchor="end" fill="#111" stroke="#111" stroke-width="0.22">Biosynthesis of amino acids</text>
</g>
<g clip-path="url(#clipD)">
<text x="690.60" y="614.36" font-size="9.6" text-anchor="end" fill="#111" stroke="#111" stroke-width="0.22">Glycolysis / Gluconeogenesis</text>
</g>
<g clip-path="url(#clipD)">
<text x="690.60" y="625.94" font-size="9.6" text-anchor="end" fill="#111" stroke="#111" stroke-width="0.22">Pentose phosphate pathway</text>
</g>
<g clip-path="url(#clipD)">
<text x="690.60" y="637.51" font-size="9.6" text-anchor="end" fill="#111" stroke="#111" stroke-width="0.22">Drug metabolism - other enzymes</text>
</g>
<g clip-path="url(#clipD)">
<text x="690.60" y="649.09" font-size="9.6" text-anchor="end" fill="#111" stroke="#111" stroke-width="0.22">Protein processing in endoplasmic reticulum</text>
</g>
<g clip-path="url(#clipD)">
<text x="690.60" y="660.66" font-size="9.6" text-anchor="end" fill="#111" stroke="#111" stroke-width="0.22">Rap1 signaling pathway</text>
</g>
<g clip-path="url(#clipD)">
<text x="690.60" y="672.24" font-size="9.6" text-anchor="end" fill="#111" stroke="#111" stroke-width="0.22">Focal adhesion</text>
</g>
<g clip-path="url(#clipD)">
<text x="690.60" y="683.82" font-size="9.6" text-anchor="end" fill="#111" stroke="#111" stroke-width="0.22">Cytoskeleton in muscle cells</text>
</g>
<g clip-path="url(#clipD)">
<text x="690.60" y="695.39" font-size="9.6" text-anchor="end" fill="#111" stroke="#111" stroke-width="0.22">Oocyte meiosis</text>
</g>
<g clip-path="url(#clipD)">
<text x="690.60" y="706.97" font-size="9.6" text-anchor="end" fill="#111" stroke="#111" stroke-width="0.22">Regulation of actin cytoskeleton</text>
</g>
<g clip-path="url(#clipD)">
<text x="690.60" y="718.54" font-size="9.6" text-anchor="end" fill="#111" stroke="#111" stroke-width="0.22">Platelet activation</text>
</g>
<g clip-path="url(#clipD)">
<text x="690.60" y="730.12" font-size="9.6" text-anchor="end" fill="#111" stroke="#111" stroke-width="0.22">Pancreatic secretion</text>
</g>
<g clip-path="url(#clipD)">
<text x="690.60" y="741.70" font-size="9.6" text-anchor="end" fill="#111" stroke="#111" stroke-width="0.22">Gastric acid secretion</text>
</g>
<g clip-path="url(#clipD)">
<text x="690.60" y="753.27" font-size="9.6" text-anchor="end" fill="#111" stroke="#111" stroke-width="0.22">Complement and coagulation cascades</text>
</g>
<g clip-path="url(#clipD)">
<text x="690.60" y="764.85" font-size="9.6" text-anchor="end" fill="#111" stroke="#111" stroke-width="0.22">Proximal tubule bicarbonate reclamation</text>
</g>
<g clip-path="url(#clipDb)">
<text x="690.60" y="776.42" font-size="9.6" text-anchor="end" fill="#111" stroke="#111" stroke-width="0.22">Longevity regulating pathway - multiple species</text>
</g>
<g clip-path="url(#clipD)">
<text x="690.60" y="788.00" font-size="9.6" text-anchor="end" fill="#111" stroke="#111" stroke-width="0.22">Neurotrophin signaling pathway</text>
</g>
<g clip-path="url(#clipD)">
<text x="690.60" y="799.58" font-size="9.6" text-anchor="end" fill="#111" stroke="#111" stroke-width="0.22">Systemic lupus erythematosus</text>
</g>
<g clip-path="url(#clipD)">
<text x="690.60" y="811.15" font-size="9.6" text-anchor="end" fill="#111" stroke="#111" stroke-width="0.22">Alcoholism</text>
</g>
<g clip-path="url(#clipD)">
<text x="690.60" y="822.73" font-size="9.6" text-anchor="end" fill="#111" stroke="#111" stroke-width="0.22">Viral carcinogenesis</text>
</g>
<g clip-path="url(#clipD)">
<text x="690.60" y="834.30" font-size="9.6" text-anchor="end" fill="#111" stroke="#111" stroke-width="0.22">Dilated cardiomyopathy</text>
</g>
<g clip-path="url(#clipD)">
<text x="690.60" y="845.88" font-size="9.6" text-anchor="end" fill="#111" stroke="#111" stroke-width="0.22">Hypertrophic cardiomyopathy</text>
</g>
<g clip-path="url(#clipD)">
<text x="690.60" y="857.46" font-size="9.6" text-anchor="end" fill="#111" stroke="#111" stroke-width="0.22">Fluid shear stress and atherosclerosis</text>
</g>
<g clip-path="url(#clipD)">
<text x="690.60" y="869.03" font-size="9.6" text-anchor="end" fill="#111" stroke="#111" stroke-width="0.22">Malaria</text>
</g>
<g clip-path="url(#clipD)">
<text x="690.60" y="880.61" font-size="9.6" text-anchor="end" fill="#111" stroke="#111" stroke-width="0.22">African trypanosomiasis</text>
</g>
<rect x="696.60" y="583.90" width="83.44" height="9.00" fill="#5f6399"/>
<line x1="693.30" y1="588.40" x2="696.60" y2="588.40" stroke="#222" stroke-width="0.9"/>
<text transform="translate(775.74 590.96) scale(0.87 1)" font-size="9.9" text-anchor="end" fill="#000" stroke="#000" stroke-width="0.2">8</text>
<rect x="696.60" y="595.48" width="62.58" height="9.00" fill="#5f6399"/>
<line x1="693.30" y1="599.98" x2="696.60" y2="599.98" stroke="#222" stroke-width="0.9"/>
<text transform="translate(754.88 602.54) scale(0.87 1)" font-size="9.9" text-anchor="end" fill="#000" stroke="#000" stroke-width="0.2">6</text>
<rect x="696.60" y="607.05" width="52.15" height="9.00" fill="#5f6399"/>
<line x1="693.30" y1="611.55" x2="696.60" y2="611.55" stroke="#222" stroke-width="0.9"/>
<text transform="translate(744.45 614.12) scale(0.87 1)" font-size="9.9" text-anchor="end" fill="#000" stroke="#000" stroke-width="0.2">5</text>
<rect x="696.60" y="618.63" width="31.29" height="9.00" fill="#5f6399"/>
<line x1="693.30" y1="623.13" x2="696.60" y2="623.13" stroke="#222" stroke-width="0.9"/>
<text transform="translate(723.59 625.69) scale(0.87 1)" font-size="9.9" text-anchor="end" fill="#000" stroke="#000" stroke-width="0.2">3</text>
<rect x="696.60" y="630.20" width="41.72" height="9.00" fill="#5f6399"/>
<line x1="693.30" y1="634.70" x2="696.60" y2="634.70" stroke="#222" stroke-width="0.9"/>
<text transform="translate(734.02 637.27) scale(0.87 1)" font-size="9.9" text-anchor="end" fill="#000" stroke="#000" stroke-width="0.2">4</text>
<rect x="696.60" y="641.78" width="62.58" height="9.00" fill="#7a81c3"/>
<line x1="693.30" y1="646.28" x2="696.60" y2="646.28" stroke="#222" stroke-width="0.9"/>
<text transform="translate(754.88 648.84) scale(0.87 1)" font-size="9.9" text-anchor="end" fill="#000" stroke="#000" stroke-width="0.2">6</text>
<rect x="696.60" y="653.36" width="93.87" height="9.00" fill="#8f89e9"/>
<line x1="693.30" y1="657.86" x2="696.60" y2="657.86" stroke="#222" stroke-width="0.9"/>
<text transform="translate(786.17 660.42) scale(0.87 1)" font-size="9.9" text-anchor="end" fill="#000" stroke="#000" stroke-width="0.2">9</text>
<rect x="696.60" y="664.93" width="104.30" height="9.00" fill="#8e9aeb"/>
<line x1="693.30" y1="669.43" x2="696.60" y2="669.43" stroke="#222" stroke-width="0.9"/>
<text transform="translate(796.60 672.00) scale(0.87 1)" font-size="9.9" text-anchor="end" fill="#000" stroke="#000" stroke-width="0.2">10</text>
<rect x="696.60" y="676.51" width="104.30" height="9.00" fill="#8e9aeb"/>
<line x1="693.30" y1="681.01" x2="696.60" y2="681.01" stroke="#222" stroke-width="0.9"/>
<text transform="translate(796.60 683.57) scale(0.87 1)" font-size="9.9" text-anchor="end" fill="#000" stroke="#000" stroke-width="0.2">10</text>
<rect x="696.60" y="688.08" width="62.58" height="9.00" fill="#8e9aeb"/>
<line x1="693.30" y1="692.58" x2="696.60" y2="692.58" stroke="#222" stroke-width="0.9"/>
<text transform="translate(754.88 695.15) scale(0.87 1)" font-size="9.9" text-anchor="end" fill="#000" stroke="#000" stroke-width="0.2">6</text>
<rect x="696.60" y="699.66" width="73.01" height="9.00" fill="#8e9aeb"/>
<line x1="693.30" y1="704.16" x2="696.60" y2="704.16" stroke="#222" stroke-width="0.9"/>
<text transform="translate(765.31 706.72) scale(0.87 1)" font-size="9.9" text-anchor="end" fill="#000" stroke="#000" stroke-width="0.2">7</text>
<rect x="696.60" y="711.24" width="93.87" height="9.00" fill="#b9c1f1"/>
<line x1="693.30" y1="715.74" x2="696.60" y2="715.74" stroke="#222" stroke-width="0.9"/>
<text transform="translate(786.17 718.30) scale(0.87 1)" font-size="9.9" text-anchor="end" fill="#000" stroke="#000" stroke-width="0.2">9</text>
<rect x="696.60" y="722.81" width="62.58" height="9.00" fill="#b9c1f1"/>
<line x1="693.30" y1="727.31" x2="696.60" y2="727.31" stroke="#222" stroke-width="0.9"/>
<text transform="translate(754.88 729.88) scale(0.87 1)" font-size="9.9" text-anchor="end" fill="#000" stroke="#000" stroke-width="0.2">6</text>
<rect x="696.60" y="734.39" width="52.15" height="9.00" fill="#b9c1f1"/>
<line x1="693.30" y1="738.89" x2="696.60" y2="738.89" stroke="#222" stroke-width="0.9"/>
<text transform="translate(744.45 741.45) scale(0.87 1)" font-size="9.9" text-anchor="end" fill="#000" stroke="#000" stroke-width="0.2">5</text>
<rect x="696.60" y="745.96" width="52.15" height="9.00" fill="#b9c1f1"/>
<line x1="693.30" y1="750.46" x2="696.60" y2="750.46" stroke="#222" stroke-width="0.9"/>
<text transform="translate(744.45 753.03) scale(0.87 1)" font-size="9.9" text-anchor="end" fill="#000" stroke="#000" stroke-width="0.2">5</text>
<rect x="696.60" y="757.54" width="31.29" height="9.00" fill="#b9c1f1"/>
<line x1="693.30" y1="762.04" x2="696.60" y2="762.04" stroke="#222" stroke-width="0.9"/>
<text transform="translate(723.59 764.60) scale(0.87 1)" font-size="9.9" text-anchor="end" fill="#000" stroke="#000" stroke-width="0.2">3</text>
<rect x="696.60" y="769.12" width="41.72" height="9.00" fill="#b9c1f1"/>
<line x1="693.30" y1="773.62" x2="696.60" y2="773.62" stroke="#222" stroke-width="0.9"/>
<text transform="translate(734.02 776.18) scale(0.87 1)" font-size="9.9" text-anchor="end" fill="#000" stroke="#000" stroke-width="0.2">4</text>
<rect x="696.60" y="780.69" width="52.15" height="9.00" fill="#b9c1f1"/>
<line x1="693.30" y1="785.19" x2="696.60" y2="785.19" stroke="#222" stroke-width="0.9"/>
<text transform="translate(744.45 787.76) scale(0.87 1)" font-size="9.9" text-anchor="end" fill="#000" stroke="#000" stroke-width="0.2">5</text>
<rect x="696.60" y="792.27" width="187.74" height="9.00" fill="#cbddf3"/>
<line x1="693.30" y1="796.77" x2="696.60" y2="796.77" stroke="#222" stroke-width="0.9"/>
<text transform="translate(880.04 799.33) scale(0.87 1)" font-size="9.9" text-anchor="end" fill="#000" stroke="#000" stroke-width="0.2">18</text>
<rect x="696.60" y="803.84" width="177.31" height="9.00" fill="#cbddf3"/>
<line x1="693.30" y1="808.34" x2="696.60" y2="808.34" stroke="#222" stroke-width="0.9"/>
<text transform="translate(869.61 810.91) scale(0.87 1)" font-size="9.9" text-anchor="end" fill="#000" stroke="#000" stroke-width="0.2">17</text>
<rect x="696.60" y="815.42" width="177.31" height="9.00" fill="#cbddf3"/>
<line x1="693.30" y1="819.92" x2="696.60" y2="819.92" stroke="#222" stroke-width="0.9"/>
<text transform="translate(869.61 822.48) scale(0.87 1)" font-size="9.9" text-anchor="end" fill="#000" stroke="#000" stroke-width="0.2">17</text>
<rect x="696.60" y="827.00" width="73.01" height="9.00" fill="#cbddf3"/>
<line x1="693.30" y1="831.50" x2="696.60" y2="831.50" stroke="#222" stroke-width="0.9"/>
<text transform="translate(765.31 834.06) scale(0.87 1)" font-size="9.9" text-anchor="end" fill="#000" stroke="#000" stroke-width="0.2">7</text>
<rect x="696.60" y="838.57" width="62.58" height="9.00" fill="#cbddf3"/>
<line x1="693.30" y1="843.07" x2="696.60" y2="843.07" stroke="#222" stroke-width="0.9"/>
<text transform="translate(754.88 845.64) scale(0.87 1)" font-size="9.9" text-anchor="end" fill="#000" stroke="#000" stroke-width="0.2">6</text>
<rect x="696.60" y="850.15" width="73.01" height="9.00" fill="#cbddf3"/>
<line x1="693.30" y1="854.65" x2="696.60" y2="854.65" stroke="#222" stroke-width="0.9"/>
<text transform="translate(765.31 857.21) scale(0.87 1)" font-size="9.9" text-anchor="end" fill="#000" stroke="#000" stroke-width="0.2">7</text>
<rect x="696.60" y="861.72" width="41.72" height="9.00" fill="#cbddf3"/>
<line x1="693.30" y1="866.22" x2="696.60" y2="866.22" stroke="#222" stroke-width="0.9"/>
<text transform="translate(734.02 868.79) scale(0.87 1)" font-size="9.9" text-anchor="end" fill="#000" stroke="#000" stroke-width="0.2">4</text>
<rect x="696.60" y="873.30" width="31.29" height="9.00" fill="#cbddf3"/>
<line x1="693.30" y1="877.80" x2="696.60" y2="877.80" stroke="#222" stroke-width="0.9"/>
<text transform="translate(723.59 880.36) scale(0.87 1)" font-size="9.9" text-anchor="end" fill="#000" stroke="#000" stroke-width="0.2">3</text>
<rect x="914.30" y="582.60" width="2.80" height="57.60" fill="#5f6399"/>
<rect x="914.30" y="640.20" width="2.80" height="11.40" fill="#7a81c3"/>
<rect x="914.30" y="651.60" width="2.80" height="11.60" fill="#8f89e9"/>
<rect x="914.30" y="663.20" width="2.80" height="46.60" fill="#8e9aeb"/>
<rect x="914.30" y="709.80" width="2.80" height="81.00" fill="#b9c1f1"/>
<rect x="914.30" y="790.80" width="2.80" height="92.60" fill="#cbddf3"/>
<text x="919.60" y="614.01" font-size="9.6" fill="#111" stroke="#111" stroke-width="0.2">Metabolism</text>
<text x="919.60" y="649.31" font-size="9.6" fill="#111" stroke="#111" stroke-width="0.2">Genetic Information Processing</text>
<text x="919.60" y="660.61" font-size="9.6" fill="#111" stroke="#111" stroke-width="0.2">Environmental Information Processing</text>
<text x="919.60" y="689.71" font-size="9.6" fill="#111" stroke="#111" stroke-width="0.2">Cellular Processes</text>
<text x="919.60" y="753.51" font-size="9.6" fill="#111" stroke="#111" stroke-width="0.2">Organismal Systems</text>
<text x="919.60" y="840.31" font-size="9.6" fill="#111" stroke="#111" stroke-width="0.2">Human Diseases</text>
<line x1="696.60" y1="582.50" x2="696.60" y2="884.60" stroke="#222" stroke-width="1.2"/>
<line x1="696.00" y1="884.00" x2="926.80" y2="884.00" stroke="#222" stroke-width="1.4"/>
<line x1="696.60" y1="884.00" x2="696.60" y2="887.20" stroke="#222" stroke-width="1.0"/>
<text x="696.60" y="896.30" font-size="9.3" text-anchor="middle" fill="#1a1a1a">0</text>
<line x1="727.89" y1="884.00" x2="727.89" y2="887.20" stroke="#222" stroke-width="1.0"/>
<text x="727.89" y="896.30" font-size="9.3" text-anchor="middle" fill="#1a1a1a">3</text>
<line x1="759.18" y1="884.00" x2="759.18" y2="887.20" stroke="#222" stroke-width="1.0"/>
<text x="759.18" y="896.30" font-size="9.3" text-anchor="middle" fill="#1a1a1a">6</text>
<line x1="790.47" y1="884.00" x2="790.47" y2="887.20" stroke="#222" stroke-width="1.0"/>
<text x="790.47" y="896.30" font-size="9.3" text-anchor="middle" fill="#1a1a1a">9</text>
<line x1="821.76" y1="884.00" x2="821.76" y2="887.20" stroke="#222" stroke-width="1.0"/>
<text x="821.76" y="896.30" font-size="9.3" text-anchor="middle" fill="#1a1a1a">12</text>
<line x1="853.05" y1="884.00" x2="853.05" y2="887.20" stroke="#222" stroke-width="1.0"/>
<text x="853.05" y="896.30" font-size="9.3" text-anchor="middle" fill="#1a1a1a">15</text>
<line x1="884.34" y1="884.00" x2="884.34" y2="887.20" stroke="#222" stroke-width="1.0"/>
<text x="884.34" y="896.30" font-size="9.3" text-anchor="middle" fill="#1a1a1a">18</text>
<line x1="915.63" y1="884.00" x2="915.63" y2="887.20" stroke="#222" stroke-width="1.0"/>
<text x="915.63" y="896.30" font-size="9.3" text-anchor="middle" fill="#1a1a1a">21</text>
<text x="805.50" y="910.60" font-size="10.4" text-anchor="middle" fill="#1a1a1a">Gene Count</text>
<defs><clipPath id="clipF"><rect x="1120" y="0" width="227.4000000000001" height="918"/></clipPath><clipPath id="clipFb"><rect x="1120" y="0" width="227.4000000000001" height="918"/></clipPath></defs>
<g clip-path="url(#clipF)">
<text x="1341.00" y="590.01" font-size="8.75" text-anchor="end" fill="#111" stroke="#111" stroke-width="0.22">Calcium signaling pathway</text>
</g>
<g clip-path="url(#clipF)">
<text x="1341.00" y="598.63" font-size="8.75" text-anchor="end" fill="#111" stroke="#111" stroke-width="0.22">cGMP-PKG signaling pathway</text>
</g>
<g clip-path="url(#clipF)">
<text x="1341.00" y="607.25" font-size="8.75" text-anchor="end" fill="#111" stroke="#111" stroke-width="0.22">Neuroactive ligand-receptor interaction</text>
</g>
<g clip-path="url(#clipF)">
<text x="1341.00" y="615.88" font-size="8.75" text-anchor="end" fill="#111" stroke="#111" stroke-width="0.22">TNF signaling pathway</text>
</g>
<g clip-path="url(#clipF)">
<text x="1341.00" y="624.50" font-size="8.75" text-anchor="end" fill="#111" stroke="#111" stroke-width="0.22">NF-kappa B signaling pathway</text>
</g>
<g clip-path="url(#clipF)">
<text x="1341.00" y="633.13" font-size="8.75" text-anchor="end" fill="#111" stroke="#111" stroke-width="0.22">HIF-1 signaling pathway</text>
</g>
<g clip-path="url(#clipF)">
<text x="1341.00" y="641.75" font-size="8.75" text-anchor="end" fill="#111" stroke="#111" stroke-width="0.22">FoxO signaling pathway</text>
</g>
<g clip-path="url(#clipF)">
<text x="1341.00" y="650.37" font-size="8.75" text-anchor="end" fill="#111" stroke="#111" stroke-width="0.22">Apelin signaling pathway</text>
</g>
<g clip-path="url(#clipF)">
<text x="1341.00" y="659.00" font-size="8.75" text-anchor="end" fill="#111" stroke="#111" stroke-width="0.22">Cell adhesion molecules</text>
</g>
<g clip-path="url(#clipF)">
<text x="1341.00" y="667.62" font-size="8.75" text-anchor="end" fill="#111" stroke="#111" stroke-width="0.22">Adherens junction</text>
</g>
<g clip-path="url(#clipF)">
<text x="1341.00" y="676.25" font-size="8.75" text-anchor="end" fill="#111" stroke="#111" stroke-width="0.22">Cellular senescence</text>
</g>
<g clip-path="url(#clipF)">
<text x="1341.00" y="684.87" font-size="8.75" text-anchor="end" fill="#111" stroke="#111" stroke-width="0.22">Salivary secretion</text>
</g>
<g clip-path="url(#clipF)">
<text x="1341.00" y="693.49" font-size="8.75" text-anchor="end" fill="#111" stroke="#111" stroke-width="0.22">Hematopoietic cell lineage</text>
</g>
<g clip-path="url(#clipF)">
<text x="1341.00" y="702.12" font-size="8.75" text-anchor="end" fill="#111" stroke="#111" stroke-width="0.22">Th17 cell differentiation</text>
</g>
<g clip-path="url(#clipF)">
<text x="1341.00" y="710.74" font-size="8.75" text-anchor="end" fill="#111" stroke="#111" stroke-width="0.22">Platelet activation</text>
</g>
<g clip-path="url(#clipF)">
<text x="1341.00" y="719.37" font-size="8.75" text-anchor="end" fill="#111" stroke="#111" stroke-width="0.22">Relaxin signaling pathway</text>
</g>
<g clip-path="url(#clipF)">
<text x="1341.00" y="727.99" font-size="8.75" text-anchor="end" fill="#111" stroke="#111" stroke-width="0.22">Insulin signaling pathway</text>
</g>
<g clip-path="url(#clipF)">
<text x="1341.00" y="736.61" font-size="8.75" text-anchor="end" fill="#111" stroke="#111" stroke-width="0.22">Osteoclast differentiation</text>
</g>
<g clip-path="url(#clipF)">
<text x="1341.00" y="745.24" font-size="8.75" text-anchor="end" fill="#111" stroke="#111" stroke-width="0.22">Adrenergic signaling in cardiomyocytes</text>
</g>
<g clip-path="url(#clipF)">
<text x="1341.00" y="753.86" font-size="8.75" text-anchor="end" fill="#111" stroke="#111" stroke-width="0.22">AGE-RAGE signaling pathway in diabetic complications</text>
</g>
<g clip-path="url(#clipF)">
<text x="1341.00" y="762.49" font-size="8.75" text-anchor="end" fill="#111" stroke="#111" stroke-width="0.22">Fluid shear stress and atherosclerosis</text>
</g>
<g clip-path="url(#clipF)">
<text x="1341.00" y="771.11" font-size="8.75" text-anchor="end" fill="#111" stroke="#111" stroke-width="0.22">Lipid and atherosclerosis</text>
</g>
<g clip-path="url(#clipF)">
<text x="1341.00" y="779.73" font-size="8.75" text-anchor="end" fill="#111" stroke="#111" stroke-width="0.22">Insulin resistance</text>
</g>
<g clip-path="url(#clipF)">
<text x="1341.00" y="788.36" font-size="8.75" text-anchor="end" fill="#111" stroke="#111" stroke-width="0.22">Chemical carcinogenesis - reactive oxygen species</text>
</g>
<g clip-path="url(#clipF)">
<text x="1341.00" y="796.98" font-size="8.75" text-anchor="end" fill="#111" stroke="#111" stroke-width="0.22">Hepatocellular carcinoma</text>
</g>
<g clip-path="url(#clipF)">
<text x="1341.00" y="805.61" font-size="8.75" text-anchor="end" fill="#111" stroke="#111" stroke-width="0.22">Influenza A</text>
</g>
<g clip-path="url(#clipF)">
<text x="1341.00" y="814.23" font-size="8.75" text-anchor="end" fill="#111" stroke="#111" stroke-width="0.22">Pathways in cancer</text>
</g>
<g clip-path="url(#clipF)">
<text x="1341.00" y="822.85" font-size="8.75" text-anchor="end" fill="#111" stroke="#111" stroke-width="0.22">Kaposi sarcoma-associated herpesvirus infection</text>
</g>
<g clip-path="url(#clipF)">
<text x="1341.00" y="831.48" font-size="8.75" text-anchor="end" fill="#111" stroke="#111" stroke-width="0.22">Platinum drug resistance</text>
</g>
<g clip-path="url(#clipF)">
<text x="1341.00" y="840.10" font-size="8.75" text-anchor="end" fill="#111" stroke="#111" stroke-width="0.22">Pancreatic cancer</text>
</g>
<g clip-path="url(#clipF)">
<text x="1341.00" y="848.73" font-size="8.75" text-anchor="end" fill="#111" stroke="#111" stroke-width="0.22">Chronic myeloid leukemia</text>
</g>
<g clip-path="url(#clipF)">
<text x="1341.00" y="857.35" font-size="8.75" text-anchor="end" fill="#111" stroke="#111" stroke-width="0.22">Human T-cell leukemia virus 1 infection</text>
</g>
<g clip-path="url(#clipF)">
<text x="1341.00" y="865.97" font-size="8.75" text-anchor="end" fill="#111" stroke="#111" stroke-width="0.22">Small cell lung cancer</text>
</g>
<g clip-path="url(#clipF)">
<text x="1341.00" y="874.60" font-size="8.75" text-anchor="end" fill="#111" stroke="#111" stroke-width="0.22">Chagas disease</text>
</g>
<g clip-path="url(#clipF)">
<text x="1341.00" y="883.22" font-size="8.75" text-anchor="end" fill="#111" stroke="#111" stroke-width="0.22">Measles</text>
</g>
<rect x="1347.40" y="583.45" width="180.12" height="6.90" fill="#5f60b0"/>
<line x1="1344.10" y1="586.90" x2="1347.40" y2="586.90" stroke="#222" stroke-width="0.9"/>
<text transform="translate(1523.02 589.09) scale(1 1)" font-size="8.3" text-anchor="end" fill="#000" stroke="#000" stroke-width="0.2">6</text>
<rect x="1347.40" y="592.07" width="150.10" height="6.90" fill="#5f60b0"/>
<line x1="1344.10" y1="595.52" x2="1347.40" y2="595.52" stroke="#222" stroke-width="0.9"/>
<text transform="translate(1493.00 597.71) scale(1 1)" font-size="8.3" text-anchor="end" fill="#000" stroke="#000" stroke-width="0.2">5</text>
<rect x="1347.40" y="600.70" width="180.12" height="6.90" fill="#5f60b0"/>
<line x1="1344.10" y1="604.15" x2="1347.40" y2="604.15" stroke="#222" stroke-width="0.9"/>
<text transform="translate(1523.02 606.34) scale(1 1)" font-size="8.3" text-anchor="end" fill="#000" stroke="#000" stroke-width="0.2">6</text>
<rect x="1347.40" y="609.32" width="120.08" height="6.90" fill="#5f60b0"/>
<line x1="1344.10" y1="612.77" x2="1347.40" y2="612.77" stroke="#222" stroke-width="0.9"/>
<text transform="translate(1462.98 614.96) scale(1 1)" font-size="8.3" text-anchor="end" fill="#000" stroke="#000" stroke-width="0.2">4</text>
<rect x="1347.40" y="617.95" width="90.06" height="6.90" fill="#5f60b0"/>
<line x1="1344.10" y1="621.40" x2="1347.40" y2="621.40" stroke="#222" stroke-width="0.9"/>
<text transform="translate(1432.96 623.58) scale(1 1)" font-size="8.3" text-anchor="end" fill="#000" stroke="#000" stroke-width="0.2">3</text>
<rect x="1347.40" y="626.57" width="90.06" height="6.90" fill="#5f60b0"/>
<line x1="1344.10" y1="630.02" x2="1347.40" y2="630.02" stroke="#222" stroke-width="0.9"/>
<text transform="translate(1432.96 632.21) scale(1 1)" font-size="8.3" text-anchor="end" fill="#000" stroke="#000" stroke-width="0.2">3</text>
<rect x="1347.40" y="635.19" width="90.06" height="6.90" fill="#5f60b0"/>
<line x1="1344.10" y1="638.64" x2="1347.40" y2="638.64" stroke="#222" stroke-width="0.9"/>
<text transform="translate(1432.96 640.83) scale(1 1)" font-size="8.3" text-anchor="end" fill="#000" stroke="#000" stroke-width="0.2">3</text>
<rect x="1347.40" y="643.82" width="90.06" height="6.90" fill="#5f60b0"/>
<line x1="1344.10" y1="647.27" x2="1347.40" y2="647.27" stroke="#222" stroke-width="0.9"/>
<text transform="translate(1432.96 649.46) scale(1 1)" font-size="8.3" text-anchor="end" fill="#000" stroke="#000" stroke-width="0.2">3</text>
<rect x="1347.40" y="652.44" width="90.06" height="6.90" fill="#5f60b0"/>
<line x1="1344.10" y1="655.89" x2="1347.40" y2="655.89" stroke="#222" stroke-width="0.9"/>
<text transform="translate(1432.96 658.08) scale(1 1)" font-size="8.3" text-anchor="end" fill="#000" stroke="#000" stroke-width="0.2">3</text>
<rect x="1347.40" y="661.07" width="90.06" height="6.90" fill="#b6bef0"/>
<line x1="1344.10" y1="664.52" x2="1347.40" y2="664.52" stroke="#222" stroke-width="0.9"/>
<text transform="translate(1432.96 666.70) scale(1 1)" font-size="8.3" text-anchor="end" fill="#000" stroke="#000" stroke-width="0.2">3</text>
<rect x="1347.40" y="669.69" width="90.06" height="6.90" fill="#b6bef0"/>
<line x1="1344.10" y1="673.14" x2="1347.40" y2="673.14" stroke="#222" stroke-width="0.9"/>
<text transform="translate(1432.96 675.33) scale(1 1)" font-size="8.3" text-anchor="end" fill="#000" stroke="#000" stroke-width="0.2">3</text>
<rect x="1347.40" y="678.31" width="90.06" height="6.90" fill="#d0d3f5"/>
<line x1="1344.10" y1="681.76" x2="1347.40" y2="681.76" stroke="#222" stroke-width="0.9"/>
<text transform="translate(1432.96 683.95) scale(1 1)" font-size="8.3" text-anchor="end" fill="#000" stroke="#000" stroke-width="0.2">3</text>
<rect x="1347.40" y="686.94" width="90.06" height="6.90" fill="#d0d3f5"/>
<line x1="1344.10" y1="690.39" x2="1347.40" y2="690.39" stroke="#222" stroke-width="0.9"/>
<text transform="translate(1432.96 692.58) scale(1 1)" font-size="8.3" text-anchor="end" fill="#000" stroke="#000" stroke-width="0.2">3</text>
<rect x="1347.40" y="695.56" width="90.06" height="6.90" fill="#d0d3f5"/>
<line x1="1344.10" y1="699.01" x2="1347.40" y2="699.01" stroke="#222" stroke-width="0.9"/>
<text transform="translate(1432.96 701.20) scale(1 1)" font-size="8.3" text-anchor="end" fill="#000" stroke="#000" stroke-width="0.2">3</text>
<rect x="1347.40" y="704.19" width="90.06" height="6.90" fill="#d0d3f5"/>
<line x1="1344.10" y1="707.64" x2="1347.40" y2="707.64" stroke="#222" stroke-width="0.9"/>
<text transform="translate(1432.96 709.82) scale(1 1)" font-size="8.3" text-anchor="end" fill="#000" stroke="#000" stroke-width="0.2">3</text>
<rect x="1347.40" y="712.81" width="90.06" height="6.90" fill="#d0d3f5"/>
<line x1="1344.10" y1="716.26" x2="1347.40" y2="716.26" stroke="#222" stroke-width="0.9"/>
<text transform="translate(1432.96 718.45) scale(1 1)" font-size="8.3" text-anchor="end" fill="#000" stroke="#000" stroke-width="0.2">3</text>
<rect x="1347.40" y="721.43" width="90.06" height="6.90" fill="#d0d3f5"/>
<line x1="1344.10" y1="724.88" x2="1347.40" y2="724.88" stroke="#222" stroke-width="0.9"/>
<text transform="translate(1432.96 727.07) scale(1 1)" font-size="8.3" text-anchor="end" fill="#000" stroke="#000" stroke-width="0.2">3</text>
<rect x="1347.40" y="730.06" width="90.06" height="6.90" fill="#d0d3f5"/>
<line x1="1344.10" y1="733.51" x2="1347.40" y2="733.51" stroke="#222" stroke-width="0.9"/>
<text transform="translate(1432.96 735.70) scale(1 1)" font-size="8.3" text-anchor="end" fill="#000" stroke="#000" stroke-width="0.2">3</text>
<rect x="1347.40" y="738.68" width="90.06" height="6.90" fill="#d0d3f5"/>
<line x1="1344.10" y1="742.13" x2="1347.40" y2="742.13" stroke="#222" stroke-width="0.9"/>
<text transform="translate(1432.96 744.32) scale(1 1)" font-size="8.3" text-anchor="end" fill="#000" stroke="#000" stroke-width="0.2">3</text>
<rect x="1347.40" y="747.31" width="150.10" height="6.90" fill="#cbddf3"/>
<line x1="1344.10" y1="750.76" x2="1347.40" y2="750.76" stroke="#222" stroke-width="0.9"/>
<text transform="translate(1493.00 752.94) scale(1 1)" font-size="8.3" text-anchor="end" fill="#000" stroke="#000" stroke-width="0.2">5</text>
<rect x="1347.40" y="755.93" width="150.10" height="6.90" fill="#cbddf3"/>
<line x1="1344.10" y1="759.38" x2="1347.40" y2="759.38" stroke="#222" stroke-width="0.9"/>
<text transform="translate(1493.00 761.57) scale(1 1)" font-size="8.3" text-anchor="end" fill="#000" stroke="#000" stroke-width="0.2">5</text>
<rect x="1347.40" y="764.55" width="150.10" height="6.90" fill="#cbddf3"/>
<line x1="1344.10" y1="768.00" x2="1347.40" y2="768.00" stroke="#222" stroke-width="0.9"/>
<text transform="translate(1493.00 770.19) scale(1 1)" font-size="8.3" text-anchor="end" fill="#000" stroke="#000" stroke-width="0.2">5</text>
<rect x="1347.40" y="773.18" width="120.08" height="6.90" fill="#cbddf3"/>
<line x1="1344.10" y1="776.63" x2="1347.40" y2="776.63" stroke="#222" stroke-width="0.9"/>
<text transform="translate(1462.98 778.82) scale(1 1)" font-size="8.3" text-anchor="end" fill="#000" stroke="#000" stroke-width="0.2">4</text>
<rect x="1347.40" y="781.80" width="150.10" height="6.90" fill="#cbddf3"/>
<line x1="1344.10" y1="785.25" x2="1347.40" y2="785.25" stroke="#222" stroke-width="0.9"/>
<text transform="translate(1493.00 787.44) scale(1 1)" font-size="8.3" text-anchor="end" fill="#000" stroke="#000" stroke-width="0.2">5</text>
<rect x="1347.40" y="790.43" width="120.08" height="6.90" fill="#cbddf3"/>
<line x1="1344.10" y1="793.88" x2="1347.40" y2="793.88" stroke="#222" stroke-width="0.9"/>
<text transform="translate(1462.98 796.06) scale(1 1)" font-size="8.3" text-anchor="end" fill="#000" stroke="#000" stroke-width="0.2">4</text>
<rect x="1347.40" y="799.05" width="120.08" height="6.90" fill="#cbddf3"/>
<line x1="1344.10" y1="802.50" x2="1347.40" y2="802.50" stroke="#222" stroke-width="0.9"/>
<text transform="translate(1462.98 804.69) scale(1 1)" font-size="8.3" text-anchor="end" fill="#000" stroke="#000" stroke-width="0.2">4</text>
<rect x="1347.40" y="807.67" width="180.12" height="6.90" fill="#cbddf3"/>
<line x1="1344.10" y1="811.12" x2="1347.40" y2="811.12" stroke="#222" stroke-width="0.9"/>
<text transform="translate(1523.02 813.31) scale(1 1)" font-size="8.3" text-anchor="end" fill="#000" stroke="#000" stroke-width="0.2">6</text>
<rect x="1347.40" y="816.30" width="120.08" height="6.90" fill="#cbddf3"/>
<line x1="1344.10" y1="819.75" x2="1347.40" y2="819.75" stroke="#222" stroke-width="0.9"/>
<text transform="translate(1462.98 821.94) scale(1 1)" font-size="8.3" text-anchor="end" fill="#000" stroke="#000" stroke-width="0.2">4</text>
<rect x="1347.40" y="824.92" width="90.06" height="6.90" fill="#cbddf3"/>
<line x1="1344.10" y1="828.37" x2="1347.40" y2="828.37" stroke="#222" stroke-width="0.9"/>
<text transform="translate(1432.96 830.56) scale(1 1)" font-size="8.3" text-anchor="end" fill="#000" stroke="#000" stroke-width="0.2">3</text>
<rect x="1347.40" y="833.55" width="90.06" height="6.90" fill="#cbddf3"/>
<line x1="1344.10" y1="837.00" x2="1347.40" y2="837.00" stroke="#222" stroke-width="0.9"/>
<text transform="translate(1432.96 839.18) scale(1 1)" font-size="8.3" text-anchor="end" fill="#000" stroke="#000" stroke-width="0.2">3</text>
<rect x="1347.40" y="842.17" width="90.06" height="6.90" fill="#cbddf3"/>
<line x1="1344.10" y1="845.62" x2="1347.40" y2="845.62" stroke="#222" stroke-width="0.9"/>
<text transform="translate(1432.96 847.81) scale(1 1)" font-size="8.3" text-anchor="end" fill="#000" stroke="#000" stroke-width="0.2">3</text>
<rect x="1347.40" y="850.79" width="120.08" height="6.90" fill="#cbddf3"/>
<line x1="1344.10" y1="854.24" x2="1347.40" y2="854.24" stroke="#222" stroke-width="0.9"/>
<text transform="translate(1462.98 856.43) scale(1 1)" font-size="8.3" text-anchor="end" fill="#000" stroke="#000" stroke-width="0.2">4</text>
<rect x="1347.40" y="859.42" width="90.06" height="6.90" fill="#cbddf3"/>
<line x1="1344.10" y1="862.87" x2="1347.40" y2="862.87" stroke="#222" stroke-width="0.9"/>
<text transform="translate(1432.96 865.06) scale(1 1)" font-size="8.3" text-anchor="end" fill="#000" stroke="#000" stroke-width="0.2">3</text>
<rect x="1347.40" y="868.04" width="90.06" height="6.90" fill="#cbddf3"/>
<line x1="1344.10" y1="871.49" x2="1347.40" y2="871.49" stroke="#222" stroke-width="0.9"/>
<text transform="translate(1432.96 873.68) scale(1 1)" font-size="8.3" text-anchor="end" fill="#000" stroke="#000" stroke-width="0.2">3</text>
<rect x="1347.40" y="876.67" width="90.06" height="6.90" fill="#cbddf3"/>
<line x1="1344.10" y1="880.12" x2="1347.40" y2="880.12" stroke="#222" stroke-width="0.9"/>
<text transform="translate(1432.96 882.30) scale(1 1)" font-size="8.3" text-anchor="end" fill="#000" stroke="#000" stroke-width="0.2">3</text>
<rect x="1586.00" y="582.20" width="3.10" height="78.40" fill="#5f60b0"/>
<rect x="1586.00" y="660.60" width="3.10" height="16.80" fill="#b6bef0"/>
<rect x="1586.00" y="677.40" width="3.10" height="68.70" fill="#d0d3f5"/>
<rect x="1586.00" y="746.10" width="3.10" height="137.90" fill="#cbddf3"/>
<text x="1592.00" y="624.03" font-size="10.5" fill="#111" stroke="#111" stroke-width="0.2">Environmental Information Processing</text>
<text x="1592.00" y="672.03" font-size="10.5" fill="#111" stroke="#111" stroke-width="0.2">Cellular Processes</text>
<text x="1592.00" y="715.63" font-size="10.5" fill="#111" stroke="#111" stroke-width="0.2">Organismal Systems</text>
<text x="1592.00" y="818.73" font-size="10.5" fill="#111" stroke="#111" stroke-width="0.2">Human Diseases</text>
<line x1="1347.40" y1="581.80" x2="1347.40" y2="885.40" stroke="#222" stroke-width="1.2"/>
<line x1="1346.80" y1="884.80" x2="1599.70" y2="884.80" stroke="#222" stroke-width="1.4"/>
<line x1="1347.40" y1="884.80" x2="1347.40" y2="888.00" stroke="#222" stroke-width="1.0"/>
<text x="1347.40" y="897.50" font-size="8.7" text-anchor="middle" fill="#1a1a1a">0</text>
<line x1="1377.42" y1="884.80" x2="1377.42" y2="888.00" stroke="#222" stroke-width="1.0"/>
<text x="1377.42" y="897.50" font-size="8.7" text-anchor="middle" fill="#1a1a1a">1</text>
<line x1="1407.44" y1="884.80" x2="1407.44" y2="888.00" stroke="#222" stroke-width="1.0"/>
<text x="1407.44" y="897.50" font-size="8.7" text-anchor="middle" fill="#1a1a1a">2</text>
<line x1="1437.46" y1="884.80" x2="1437.46" y2="888.00" stroke="#222" stroke-width="1.0"/>
<text x="1437.46" y="897.50" font-size="8.7" text-anchor="middle" fill="#1a1a1a">3</text>
<line x1="1467.48" y1="884.80" x2="1467.48" y2="888.00" stroke="#222" stroke-width="1.0"/>
<text x="1467.48" y="897.50" font-size="8.7" text-anchor="middle" fill="#1a1a1a">4</text>
<line x1="1497.50" y1="884.80" x2="1497.50" y2="888.00" stroke="#222" stroke-width="1.0"/>
<text x="1497.50" y="897.50" font-size="8.7" text-anchor="middle" fill="#1a1a1a">5</text>
<line x1="1527.52" y1="884.80" x2="1527.52" y2="888.00" stroke="#222" stroke-width="1.0"/>
<text x="1527.52" y="897.50" font-size="8.7" text-anchor="middle" fill="#1a1a1a">6</text>
<line x1="1557.54" y1="884.80" x2="1557.54" y2="888.00" stroke="#222" stroke-width="1.0"/>
<text x="1557.54" y="897.50" font-size="8.7" text-anchor="middle" fill="#1a1a1a">7</text>
<line x1="1587.56" y1="884.80" x2="1587.56" y2="888.00" stroke="#222" stroke-width="1.0"/>
<text x="1587.56" y="897.50" font-size="8.7" text-anchor="middle" fill="#1a1a1a">8</text>
<text x="1473.60" y="909.80" font-size="10.4" text-anchor="middle" fill="#1a1a1a">Gene Count</text>
</svg>
</body></html>
